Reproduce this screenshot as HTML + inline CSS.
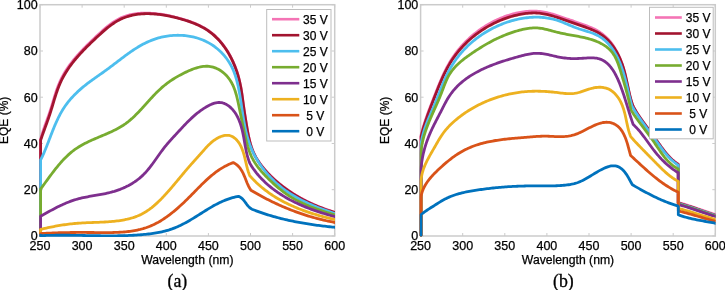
<!DOCTYPE html>
<html><head><meta charset="utf-8"><style>
html,body{margin:0;padding:0;background:#fff;width:725px;height:290px;overflow:hidden}
svg{display:block;will-change:transform}
text{font-family:"Liberation Sans",sans-serif;fill:#000;stroke:#000;stroke-width:0.25px}
.cap{font-family:"Liberation Serif",serif;stroke-width:0.3px}
</style></head><body>
<svg width="725" height="290" viewBox="0 0 725 290">
<rect width="725" height="290" fill="#fff"/>
<clipPath id="c0"><rect x="38.7" y="3.4000000000000004" width="296.3" height="233.60000000000002"/></clipPath>
<rect x="40.0" y="4.7" width="294.7" height="231.3" fill="none" stroke="#cbcbcb" stroke-width="1.5"/>
<path d="M40.0,236.0v-3M40.0,4.7v3M82.1,236.0v-3M82.1,4.7v3M124.2,236.0v-3M124.2,4.7v3M166.3,236.0v-3M166.3,4.7v3M208.4,236.0v-3M208.4,4.7v3M250.5,236.0v-3M250.5,4.7v3M292.6,236.0v-3M292.6,4.7v3M334.7,236.0v-3M334.7,4.7v3M40.0,236.0h3M334.7,236.0h-3M40.0,189.7h3M334.7,189.7h-3M40.0,143.5h3M334.7,143.5h-3M40.0,97.2h3M334.7,97.2h-3M40.0,51.0h3M334.7,51.0h-3M40.0,4.7h3M334.7,4.7h-3" stroke="#cbcbcb" stroke-width="1" fill="none"/>
<text x="40.0" y="249.6" font-size="12.5" text-anchor="middle">250</text>
<text x="82.1" y="249.6" font-size="12.5" text-anchor="middle">300</text>
<text x="124.2" y="249.6" font-size="12.5" text-anchor="middle">350</text>
<text x="166.3" y="249.6" font-size="12.5" text-anchor="middle">400</text>
<text x="208.4" y="249.6" font-size="12.5" text-anchor="middle">450</text>
<text x="250.5" y="249.6" font-size="12.5" text-anchor="middle">500</text>
<text x="292.6" y="249.6" font-size="12.5" text-anchor="middle">550</text>
<text x="334.7" y="249.6" font-size="12.5" text-anchor="middle">600</text>
<text x="37.7" y="240.4" font-size="12.5" text-anchor="end">0</text>
<text x="37.7" y="194.1" font-size="12.5" text-anchor="end">20</text>
<text x="37.7" y="147.9" font-size="12.5" text-anchor="end">40</text>
<text x="37.7" y="101.6" font-size="12.5" text-anchor="end">60</text>
<text x="37.7" y="55.4" font-size="12.5" text-anchor="end">80</text>
<text x="37.7" y="9.1" font-size="12.5" text-anchor="end">100</text>
<g clip-path="url(#c0)" fill="none" stroke-width="2.8" stroke-linejoin="round" stroke-linecap="round">
<path d="M40.60,235.20 L40.60,139.50 L40.97,138.05 L41.36,136.60 L41.77,135.17 L42.20,133.75 L42.64,132.33 L43.10,130.92 L43.57,129.51 L44.05,128.11 L44.53,126.71 L45.03,125.32 L45.53,123.92 L46.04,122.53 L46.55,121.13 L47.05,119.73 L47.56,118.33 L48.07,116.93 L48.57,115.52 L49.06,114.10 L49.55,112.68 L50.03,111.24 L50.50,109.80 L50.96,108.35 L51.41,106.90 L51.86,105.43 L52.30,103.97 L52.74,102.50 L53.18,101.02 L53.62,99.55 L54.06,98.08 L54.51,96.61 L54.97,95.14 L55.43,93.68 L55.90,92.22 L56.39,90.77 L56.89,89.33 L57.40,87.90 L57.93,86.48 L58.48,85.07 L59.05,83.67 L59.64,82.29 L60.25,80.92 L60.89,79.57 L61.55,78.24 L62.23,76.91 L62.93,75.61 L63.65,74.31 L64.40,73.03 L65.16,71.77 L65.94,70.51 L66.75,69.27 L67.57,68.04 L68.41,66.82 L69.26,65.61 L70.13,64.42 L71.02,63.23 L71.93,62.05 L72.84,60.89 L73.78,59.73 L74.73,58.58 L75.69,57.44 L76.66,56.31 L77.65,55.18 L78.65,54.07 L79.66,52.96 L80.68,51.85 L81.71,50.76 L82.75,49.67 L83.80,48.58 L84.86,47.50 L85.93,46.42 L87.00,45.35 L88.08,44.28 L89.17,43.22 L90.27,42.16 L91.37,41.10 L92.47,40.05 L93.58,38.99 L94.70,37.94 L95.81,36.89 L96.93,35.84 L98.06,34.79 L99.18,33.74 L100.31,32.70 L101.45,31.67 L102.59,30.64 L103.73,29.63 L104.89,28.63 L106.05,27.64 L107.22,26.68 L108.40,25.73 L109.60,24.81 L110.80,23.91 L112.01,23.03 L113.24,22.19 L114.49,21.37 L115.74,20.59 L117.02,19.85 L118.31,19.14 L119.61,18.47 L120.94,17.85 L122.28,17.27 L123.64,16.73 L125.02,16.23 L126.41,15.77 L127.82,15.36 L129.25,14.98 L130.68,14.64 L132.13,14.34 L133.59,14.07 L135.05,13.84 L136.53,13.64 L138.01,13.47 L139.50,13.34 L141.00,13.24 L142.50,13.16 L144.00,13.12 L145.50,13.10 L147.01,13.11 L148.52,13.14 L150.02,13.20 L151.53,13.28 L153.03,13.39 L154.53,13.52 L156.03,13.66 L157.53,13.83 L159.03,14.02 L160.52,14.23 L162.01,14.46 L163.50,14.70 L164.99,14.97 L166.48,15.25 L167.96,15.54 L169.45,15.85 L170.93,16.18 L172.41,16.52 L173.89,16.87 L175.36,17.24 L176.84,17.62 L178.31,18.01 L179.78,18.41 L181.25,18.82 L182.71,19.24 L184.17,19.68 L185.63,20.12 L187.08,20.59 L188.52,21.06 L189.96,21.56 L191.38,22.07 L192.80,22.60 L194.20,23.15 L195.60,23.72 L196.98,24.31 L198.34,24.92 L199.70,25.56 L201.03,26.22 L202.35,26.91 L203.65,27.63 L204.93,28.37 L206.19,29.14 L207.44,29.95 L208.66,30.78 L209.85,31.64 L211.03,32.54 L212.18,33.46 L213.31,34.41 L214.42,35.39 L215.51,36.39 L216.58,37.42 L217.62,38.48 L218.65,39.56 L219.65,40.66 L220.63,41.79 L221.58,42.94 L222.52,44.11 L223.43,45.30 L224.32,46.51 L225.19,47.74 L226.04,48.98 L226.87,50.25 L227.67,51.53 L228.45,52.83 L229.21,54.14 L229.95,55.47 L230.67,56.81 L231.36,58.17 L232.04,59.54 L232.69,60.91 L233.32,62.30 L233.93,63.70 L234.51,65.11 L235.08,66.53 L235.62,67.96 L236.14,69.39 L236.64,70.83 L237.12,72.27 L237.58,73.72 L238.01,75.17 L238.42,76.63 L238.81,78.09 L239.18,79.55 L239.53,81.01 L239.86,82.48 L240.17,83.94 L240.46,85.41 L240.74,86.87 L241.00,88.34 L241.25,89.81 L241.48,91.28 L241.71,92.75 L241.93,94.23 L242.14,95.70 L242.35,97.18 L242.55,98.65 L242.75,100.13 L242.95,101.61 L243.15,103.10 L243.35,104.58 L243.56,106.06 L243.77,107.55 L243.99,109.04 L244.21,110.53 L244.44,112.02 L244.68,113.52 L244.92,115.01 L245.17,116.51 L245.42,118.01 L245.67,119.50 L245.92,121.00 L246.17,122.51 L246.43,124.01 L246.68,125.51 L246.93,127.01 L247.18,128.51 L247.44,130.01 L247.71,131.51 L247.98,133.00 L248.26,134.49 L248.56,135.97 L248.87,137.45 L249.20,138.92 L249.54,140.38 L249.91,141.83 L250.30,143.27 L250.71,144.71 L251.14,146.12 L251.61,147.53 L252.11,148.92 L252.64,150.30 L253.20,151.66 L253.80,153.01 L254.43,154.34 L255.10,155.65 L255.81,156.95 L256.55,158.23 L257.32,159.49 L258.12,160.74 L258.95,161.98 L259.81,163.20 L260.69,164.41 L261.59,165.60 L262.52,166.78 L263.47,167.95 L264.43,169.11 L265.42,170.25 L266.42,171.38 L267.44,172.50 L268.48,173.60 L269.54,174.69 L270.61,175.76 L271.70,176.83 L272.80,177.88 L273.92,178.91 L275.05,179.93 L276.19,180.94 L277.34,181.93 L278.50,182.91 L279.68,183.88 L280.86,184.83 L282.06,185.77 L283.26,186.69 L284.47,187.60 L285.69,188.49 L286.91,189.37 L288.15,190.24 L289.39,191.09 L290.63,191.92 L291.89,192.75 L293.15,193.56 L294.42,194.35 L295.70,195.13 L296.98,195.90 L298.27,196.66 L299.57,197.40 L300.87,198.13 L302.19,198.85 L303.50,199.55 L304.83,200.24 L306.16,200.92 L307.50,201.59 L308.84,202.24 L310.19,202.88 L311.55,203.51 L312.91,204.13 L314.28,204.73 L315.66,205.33 L317.04,205.91 L318.43,206.48 L319.83,207.04 L321.23,207.59 L322.63,208.12 L324.04,208.65 L325.46,209.16 L326.88,209.67 L328.31,210.16 L329.75,210.64 L331.19,211.11 L332.63,211.58 L334.08,212.03 L335.54,212.47 L337.00,212.90" stroke="#f474b5"/>
<path d="M40.60,235.20 L40.60,140.30 L41.08,138.87 L41.58,137.45 L42.07,136.03 L42.57,134.62 L43.08,133.21 L43.58,131.81 L44.09,130.41 L44.60,129.01 L45.11,127.61 L45.62,126.21 L46.13,124.81 L46.63,123.41 L47.14,122.01 L47.64,120.61 L48.13,119.20 L48.63,117.79 L49.11,116.37 L49.59,114.95 L50.06,113.52 L50.53,112.09 L50.99,110.64 L51.44,109.19 L51.88,107.74 L52.32,106.28 L52.76,104.81 L53.20,103.35 L53.64,101.88 L54.08,100.41 L54.52,98.95 L54.97,97.49 L55.43,96.03 L55.90,94.57 L56.38,93.12 L56.87,91.68 L57.37,90.24 L57.89,88.82 L58.42,87.40 L58.97,86.00 L59.55,84.61 L60.14,83.23 L60.76,81.87 L61.40,80.52 L62.06,79.19 L62.74,77.87 L63.44,76.56 L64.17,75.27 L64.91,73.99 L65.67,72.72 L66.46,71.47 L67.26,70.22 L68.08,68.99 L68.91,67.77 L69.76,66.56 L70.63,65.36 L71.52,64.17 L72.42,62.99 L73.33,61.82 L74.26,60.66 L75.21,59.51 L76.17,58.37 L77.14,57.23 L78.12,56.11 L79.11,54.99 L80.12,53.87 L81.13,52.77 L82.16,51.67 L83.20,50.58 L84.24,49.49 L85.30,48.41 L86.36,47.33 L87.43,46.26 L88.51,45.19 L89.60,44.13 L90.69,43.07 L91.79,42.01 L92.89,40.96 L94.00,39.91 L95.11,38.86 L96.23,37.81 L97.35,36.77 L98.47,35.73 L99.60,34.69 L100.73,33.66 L101.86,32.63 L103.00,31.61 L104.15,30.61 L105.31,29.62 L106.47,28.64 L107.64,27.68 L108.83,26.74 L110.02,25.83 L111.22,24.93 L112.44,24.06 L113.67,23.22 L114.91,22.41 L116.17,21.63 L117.44,20.88 L118.73,20.17 L120.04,19.50 L121.36,18.86 L122.70,18.27 L124.06,17.71 L125.43,17.20 L126.82,16.72 L128.23,16.29 L129.64,15.89 L131.07,15.53 L132.51,15.20 L133.97,14.91 L135.43,14.65 L136.90,14.42 L138.37,14.23 L139.86,14.07 L141.35,13.93 L142.84,13.83 L144.34,13.76 L145.84,13.72 L147.34,13.70 L148.85,13.71 L150.35,13.74 L151.85,13.80 L153.35,13.89 L154.85,13.99 L156.35,14.13 L157.85,14.28 L159.35,14.45 L160.84,14.65 L162.33,14.86 L163.82,15.09 L165.31,15.35 L166.80,15.62 L168.29,15.90 L169.77,16.21 L171.25,16.53 L172.73,16.86 L174.21,17.21 L175.69,17.58 L177.16,17.96 L178.63,18.34 L180.10,18.75 L181.57,19.16 L183.03,19.58 L184.49,20.02 L185.95,20.48 L187.40,20.94 L188.84,21.43 L190.27,21.93 L191.69,22.45 L193.10,22.98 L194.51,23.54 L195.89,24.12 L197.27,24.72 L198.63,25.34 L199.98,25.99 L201.31,26.66 L202.62,27.36 L203.92,28.08 L205.19,28.83 L206.45,29.61 L207.69,30.42 L208.90,31.26 L210.09,32.13 L211.26,33.03 L212.41,33.96 L213.53,34.91 L214.63,35.90 L215.71,36.90 L216.77,37.94 L217.81,39.00 L218.83,40.08 L219.82,41.18 L220.79,42.31 L221.74,43.46 L222.67,44.63 L223.58,45.82 L224.46,47.03 L225.32,48.26 L226.17,49.51 L226.99,50.77 L227.78,52.06 L228.56,53.35 L229.31,54.67 L230.05,55.99 L230.76,57.33 L231.45,58.69 L232.12,60.05 L232.77,61.43 L233.39,62.82 L234.00,64.22 L234.58,65.62 L235.14,67.04 L235.68,68.46 L236.20,69.89 L236.70,71.33 L237.17,72.77 L237.63,74.22 L238.06,75.67 L238.47,77.13 L238.87,78.59 L239.24,80.05 L239.59,81.51 L239.91,82.97 L240.23,84.43 L240.52,85.90 L240.80,87.36 L241.06,88.83 L241.31,90.30 L241.55,91.77 L241.78,93.24 L242.00,94.72 L242.22,96.19 L242.42,97.67 L242.63,99.14 L242.83,100.62 L243.03,102.10 L243.22,103.58 L243.42,105.07 L243.62,106.55 L243.83,108.04 L244.03,109.53 L244.25,111.02 L244.47,112.51 L244.70,114.00 L244.93,115.50 L245.16,116.99 L245.40,118.49 L245.65,119.99 L245.89,121.49 L246.14,122.99 L246.39,124.49 L246.64,125.99 L246.89,127.48 L247.15,128.98 L247.41,130.48 L247.68,131.97 L247.96,133.46 L248.26,134.94 L248.56,136.42 L248.88,137.89 L249.22,139.36 L249.58,140.81 L249.96,142.26 L250.35,143.69 L250.78,145.12 L251.22,146.53 L251.70,147.94 L252.20,149.32 L252.74,150.70 L253.31,152.06 L253.91,153.40 L254.54,154.73 L255.21,156.04 L255.91,157.34 L256.65,158.62 L257.42,159.88 L258.21,161.14 L259.03,162.37 L259.88,163.59 L260.75,164.80 L261.65,166.00 L262.57,167.18 L263.51,168.34 L264.48,169.50 L265.46,170.64 L266.46,171.77 L267.48,172.88 L268.52,173.98 L269.58,175.07 L270.65,176.14 L271.74,177.20 L272.84,178.25 L273.96,179.28 L275.09,180.30 L276.23,181.30 L277.39,182.29 L278.55,183.27 L279.73,184.23 L280.92,185.18 L282.11,186.11 L283.32,187.03 L284.53,187.94 L285.75,188.83 L286.97,189.70 L288.21,190.57 L289.45,191.41 L290.69,192.25 L291.95,193.07 L293.21,193.88 L294.48,194.67 L295.75,195.46 L297.04,196.22 L298.32,196.98 L299.62,197.72 L300.92,198.45 L302.23,199.16 L303.55,199.87 L304.87,200.56 L306.20,201.24 L307.54,201.90 L308.88,202.56 L310.23,203.20 L311.58,203.83 L312.94,204.44 L314.31,205.05 L315.68,205.64 L317.06,206.22 L318.45,206.79 L319.84,207.35 L321.24,207.90 L322.64,208.43 L324.05,208.96 L325.47,209.47 L326.89,209.98 L328.32,210.47 L329.75,210.95 L331.19,211.42 L332.63,211.88 L334.08,212.33 L335.54,212.77 L337.00,213.20" stroke="#a2142f"/>
<path d="M40.60,235.20 L40.60,160.00 L41.26,158.69 L41.89,157.37 L42.52,156.03 L43.13,154.69 L43.74,153.33 L44.33,151.96 L44.91,150.58 L45.49,149.20 L46.05,147.80 L46.61,146.40 L47.17,144.99 L47.72,143.58 L48.27,142.17 L48.81,140.75 L49.36,139.33 L49.90,137.90 L50.45,136.48 L50.99,135.05 L51.55,133.63 L52.10,132.20 L52.66,130.78 L53.23,129.36 L53.80,127.95 L54.38,126.54 L54.97,125.13 L55.58,123.74 L56.19,122.35 L56.82,120.96 L57.46,119.59 L58.11,118.23 L58.78,116.87 L59.47,115.53 L60.17,114.20 L60.89,112.88 L61.64,111.58 L62.40,110.29 L63.19,109.02 L64.00,107.76 L64.83,106.52 L65.69,105.29 L66.57,104.09 L67.47,102.90 L68.39,101.72 L69.33,100.57 L70.29,99.42 L71.28,98.30 L72.28,97.19 L73.30,96.09 L74.33,95.01 L75.38,93.95 L76.45,92.90 L77.54,91.87 L78.63,90.85 L79.75,89.85 L80.87,88.86 L82.01,87.88 L83.16,86.92 L84.32,85.97 L85.49,85.04 L86.67,84.12 L87.86,83.21 L89.06,82.31 L90.26,81.42 L91.48,80.53 L92.69,79.66 L93.91,78.79 L95.14,77.92 L96.37,77.05 L97.60,76.19 L98.84,75.33 L100.07,74.46 L101.30,73.60 L102.54,72.73 L103.77,71.86 L105.00,70.98 L106.23,70.09 L107.45,69.20 L108.67,68.30 L109.88,67.39 L111.10,66.48 L112.31,65.56 L113.52,64.64 L114.73,63.71 L115.94,62.79 L117.14,61.87 L118.35,60.94 L119.56,60.02 L120.77,59.10 L121.98,58.18 L123.19,57.27 L124.41,56.37 L125.63,55.47 L126.85,54.57 L128.08,53.69 L129.31,52.82 L130.54,51.95 L131.78,51.10 L133.03,50.26 L134.28,49.43 L135.54,48.62 L136.81,47.82 L138.08,47.04 L139.37,46.28 L140.66,45.54 L141.96,44.81 L143.27,44.10 L144.59,43.42 L145.92,42.76 L147.26,42.12 L148.61,41.51 L149.97,40.92 L151.35,40.35 L152.74,39.82 L154.14,39.31 L155.55,38.83 L156.98,38.38 L158.42,37.96 L159.87,37.57 L161.34,37.21 L162.81,36.88 L164.28,36.58 L165.77,36.31 L167.26,36.07 L168.76,35.86 L170.27,35.68 L171.78,35.54 L173.29,35.42 L174.80,35.34 L176.32,35.29 L177.83,35.27 L179.35,35.28 L180.86,35.33 L182.37,35.40 L183.88,35.51 L185.39,35.66 L186.89,35.84 L188.39,36.05 L189.88,36.29 L191.36,36.57 L192.83,36.88 L194.30,37.23 L195.75,37.61 L197.20,38.02 L198.63,38.47 L200.05,38.96 L201.46,39.48 L202.85,40.04 L204.23,40.63 L205.59,41.26 L206.94,41.92 L208.27,42.62 L209.58,43.35 L210.87,44.13 L212.14,44.93 L213.39,45.78 L214.62,46.65 L215.82,47.56 L217.00,48.50 L218.15,49.47 L219.28,50.48 L220.39,51.51 L221.46,52.57 L222.51,53.65 L223.52,54.77 L224.51,55.90 L225.46,57.07 L226.39,58.25 L227.28,59.46 L228.13,60.69 L228.95,61.94 L229.74,63.21 L230.48,64.50 L231.19,65.81 L231.87,67.13 L232.50,68.47 L233.11,69.82 L233.68,71.19 L234.22,72.58 L234.74,73.97 L235.22,75.38 L235.68,76.80 L236.12,78.23 L236.53,79.66 L236.92,81.11 L237.29,82.56 L237.64,84.03 L237.98,85.49 L238.30,86.96 L238.60,88.44 L238.90,89.92 L239.18,91.40 L239.45,92.89 L239.71,94.38 L239.96,95.86 L240.21,97.36 L240.45,98.85 L240.68,100.34 L240.91,101.84 L241.14,103.33 L241.36,104.83 L241.58,106.33 L241.80,107.83 L242.02,109.33 L242.24,110.83 L242.47,112.32 L242.69,113.82 L242.93,115.32 L243.16,116.82 L243.40,118.32 L243.65,119.81 L243.91,121.31 L244.18,122.80 L244.45,124.29 L244.74,125.78 L245.03,127.26 L245.34,128.74 L245.67,130.22 L246.00,131.69 L246.36,133.16 L246.72,134.62 L247.11,136.08 L247.51,137.53 L247.93,138.97 L248.37,140.41 L248.83,141.83 L249.32,143.25 L249.82,144.66 L250.35,146.07 L250.90,147.46 L251.47,148.84 L252.07,150.21 L252.69,151.57 L253.34,152.92 L254.00,154.26 L254.69,155.59 L255.40,156.91 L256.13,158.22 L256.88,159.51 L257.66,160.79 L258.45,162.07 L259.27,163.33 L260.10,164.57 L260.95,165.81 L261.82,167.03 L262.72,168.24 L263.63,169.43 L264.55,170.62 L265.50,171.78 L266.46,172.94 L267.45,174.08 L268.44,175.21 L269.46,176.32 L270.49,177.42 L271.54,178.50 L272.60,179.57 L273.68,180.62 L274.77,181.66 L275.88,182.68 L277.00,183.69 L278.14,184.68 L279.29,185.65 L280.45,186.61 L281.63,187.55 L282.82,188.48 L284.02,189.38 L285.24,190.27 L286.47,191.15 L287.70,192.00 L288.95,192.84 L290.21,193.66 L291.49,194.47 L292.77,195.26 L294.06,196.04 L295.36,196.80 L296.67,197.54 L297.99,198.27 L299.31,198.99 L300.65,199.69 L301.99,200.39 L303.34,201.06 L304.70,201.73 L306.06,202.38 L307.43,203.02 L308.80,203.65 L310.19,204.27 L311.57,204.87 L312.96,205.47 L314.36,206.05 L315.76,206.63 L317.16,207.20 L318.57,207.75 L319.98,208.30 L321.39,208.84 L322.80,209.37 L324.22,209.89 L325.64,210.41 L327.06,210.92 L328.48,211.42 L329.90,211.91 L331.32,212.40 L332.74,212.88 L334.16,213.36 L335.58,213.83 L337.00,214.30" stroke="#4dbeee"/>
<path d="M40.60,235.20 L40.60,189.00 L41.48,187.81 L42.36,186.62 L43.24,185.42 L44.12,184.21 L45.00,183.00 L45.88,181.78 L46.77,180.57 L47.66,179.34 L48.55,178.12 L49.44,176.90 L50.34,175.68 L51.25,174.47 L52.16,173.25 L53.08,172.04 L54.00,170.84 L54.94,169.64 L55.88,168.45 L56.83,167.27 L57.79,166.10 L58.76,164.94 L59.74,163.79 L60.73,162.65 L61.73,161.53 L62.75,160.42 L63.78,159.32 L64.82,158.25 L65.88,157.19 L66.95,156.15 L68.04,155.13 L69.14,154.13 L70.27,153.15 L71.40,152.19 L72.56,151.26 L73.73,150.35 L74.93,149.47 L76.14,148.62 L77.38,147.79 L78.63,146.99 L79.90,146.21 L81.19,145.46 L82.49,144.73 L83.81,144.02 L85.14,143.32 L86.48,142.65 L87.84,141.99 L89.20,141.34 L90.58,140.71 L91.96,140.08 L93.35,139.47 L94.74,138.87 L96.14,138.27 L97.54,137.67 L98.95,137.08 L100.35,136.49 L101.75,135.90 L103.16,135.31 L104.56,134.72 L105.95,134.12 L107.35,133.51 L108.73,132.90 L110.11,132.28 L111.48,131.65 L112.85,131.00 L114.20,130.34 L115.54,129.67 L116.86,128.98 L118.18,128.27 L119.47,127.54 L120.76,126.79 L122.02,126.02 L123.27,125.22 L124.49,124.40 L125.70,123.55 L126.88,122.67 L128.05,121.77 L129.20,120.84 L130.34,119.89 L131.45,118.92 L132.56,117.94 L133.65,116.93 L134.73,115.90 L135.79,114.86 L136.85,113.81 L137.89,112.74 L138.93,111.66 L139.96,110.57 L140.99,109.48 L142.01,108.37 L143.02,107.26 L144.04,106.14 L145.05,105.02 L146.06,103.90 L147.06,102.77 L148.08,101.65 L149.09,100.52 L150.10,99.40 L151.12,98.29 L152.15,97.18 L153.18,96.07 L154.22,94.98 L155.27,93.89 L156.32,92.82 L157.39,91.76 L158.47,90.71 L159.56,89.67 L160.66,88.66 L161.78,87.66 L162.92,86.68 L164.07,85.72 L165.23,84.77 L166.42,83.85 L167.62,82.95 L168.83,82.07 L170.06,81.20 L171.31,80.35 L172.57,79.52 L173.84,78.71 L175.13,77.92 L176.44,77.14 L177.76,76.37 L179.09,75.63 L180.44,74.90 L181.80,74.18 L183.17,73.48 L184.55,72.79 L185.95,72.12 L187.36,71.46 L188.78,70.82 L190.21,70.21 L191.65,69.62 L193.10,69.06 L194.54,68.54 L196.00,68.06 L197.45,67.63 L198.91,67.25 L200.36,66.92 L201.81,66.65 L203.26,66.45 L204.70,66.31 L206.13,66.25 L207.55,66.26 L208.96,66.36 L210.36,66.54 L211.75,66.81 L213.12,67.16 L214.47,67.59 L215.80,68.09 L217.10,68.67 L218.38,69.31 L219.64,70.02 L220.86,70.80 L222.05,71.64 L223.20,72.53 L224.31,73.49 L225.39,74.49 L226.42,75.54 L227.41,76.64 L228.36,77.79 L229.25,78.97 L230.10,80.20 L230.89,81.46 L231.63,82.75 L232.32,84.07 L232.97,85.43 L233.57,86.80 L234.14,88.21 L234.67,89.63 L235.16,91.07 L235.63,92.53 L236.06,94.00 L236.48,95.49 L236.86,96.98 L237.23,98.49 L237.59,99.99 L237.92,101.51 L238.25,103.02 L238.57,104.53 L238.88,106.03 L239.19,107.53 L239.50,109.02 L239.81,110.51 L240.11,111.99 L240.41,113.47 L240.72,114.94 L241.02,116.41 L241.32,117.88 L241.61,119.35 L241.91,120.81 L242.21,122.27 L242.52,123.73 L242.82,125.19 L243.12,126.65 L243.43,128.11 L243.73,129.57 L244.04,131.04 L244.35,132.50 L244.67,133.97 L244.99,135.44 L245.31,136.91 L245.65,138.38 L246.00,139.85 L246.35,141.31 L246.72,142.77 L247.11,144.22 L247.52,145.67 L247.94,147.11 L248.39,148.53 L248.86,149.95 L249.36,151.35 L249.88,152.74 L250.44,154.12 L251.02,155.48 L251.64,156.82 L252.29,158.14 L252.98,159.45 L253.70,160.73 L254.46,162.00 L255.25,163.25 L256.07,164.48 L256.92,165.69 L257.79,166.89 L258.69,168.07 L259.62,169.24 L260.57,170.40 L261.54,171.54 L262.53,172.67 L263.54,173.78 L264.57,174.89 L265.61,175.98 L266.66,177.06 L267.73,178.13 L268.80,179.20 L269.89,180.25 L270.98,181.30 L272.09,182.34 L273.20,183.36 L274.33,184.38 L275.46,185.38 L276.60,186.37 L277.75,187.35 L278.92,188.32 L280.09,189.27 L281.27,190.20 L282.47,191.13 L283.67,192.03 L284.88,192.92 L286.11,193.79 L287.34,194.65 L288.59,195.48 L289.85,196.30 L291.12,197.09 L292.39,197.87 L293.68,198.63 L294.98,199.37 L296.29,200.10 L297.61,200.80 L298.94,201.49 L300.28,202.16 L301.62,202.82 L302.98,203.46 L304.34,204.09 L305.71,204.70 L307.08,205.30 L308.47,205.89 L309.86,206.46 L311.25,207.02 L312.65,207.57 L314.06,208.10 L315.47,208.63 L316.88,209.14 L318.30,209.65 L319.73,210.14 L321.15,210.63 L322.59,211.11 L324.02,211.57 L325.46,212.03 L326.89,212.49 L328.33,212.94 L329.78,213.38 L331.22,213.81 L332.67,214.24 L334.11,214.66 L335.56,215.08 L337.00,215.50" stroke="#77ac30"/>
<path d="M40.60,235.20 L40.60,216.20 L41.91,215.47 L43.22,214.74 L44.54,214.01 L45.85,213.28 L47.17,212.54 L48.49,211.82 L49.82,211.09 L51.15,210.37 L52.48,209.65 L53.82,208.94 L55.16,208.24 L56.51,207.55 L57.86,206.87 L59.21,206.20 L60.57,205.55 L61.94,204.90 L63.31,204.28 L64.69,203.67 L66.08,203.07 L67.47,202.50 L68.87,201.94 L70.27,201.41 L71.69,200.89 L73.11,200.40 L74.53,199.94 L75.97,199.50 L77.42,199.08 L78.87,198.70 L80.33,198.33 L81.79,197.98 L83.26,197.66 L84.74,197.35 L86.22,197.05 L87.71,196.76 L89.19,196.49 L90.68,196.22 L92.18,195.96 L93.67,195.70 L95.17,195.44 L96.66,195.19 L98.15,194.93 L99.65,194.66 L101.14,194.39 L102.63,194.11 L104.11,193.82 L105.59,193.51 L107.07,193.19 L108.54,192.85 L110.01,192.50 L111.47,192.12 L112.92,191.71 L114.37,191.29 L115.80,190.84 L117.23,190.36 L118.65,189.86 L120.06,189.34 L121.45,188.79 L122.84,188.21 L124.21,187.61 L125.56,186.99 L126.91,186.33 L128.23,185.66 L129.54,184.95 L130.84,184.22 L132.12,183.46 L133.37,182.67 L134.61,181.86 L135.83,181.02 L137.03,180.15 L138.21,179.25 L139.37,178.33 L140.50,177.37 L141.61,176.39 L142.69,175.38 L143.75,174.34 L144.79,173.27 L145.81,172.18 L146.80,171.06 L147.78,169.92 L148.74,168.76 L149.68,167.59 L150.61,166.40 L151.53,165.19 L152.44,163.97 L153.34,162.74 L154.24,161.51 L155.12,160.26 L156.01,159.02 L156.89,157.77 L157.77,156.52 L158.65,155.27 L159.54,154.02 L160.43,152.78 L161.32,151.54 L162.22,150.32 L163.14,149.10 L164.06,147.90 L164.99,146.71 L165.94,145.54 L166.91,144.39 L167.88,143.24 L168.86,142.11 L169.86,140.99 L170.86,139.87 L171.87,138.76 L172.88,137.66 L173.89,136.56 L174.91,135.46 L175.93,134.36 L176.95,133.26 L177.97,132.16 L178.99,131.05 L180.01,129.94 L181.03,128.84 L182.05,127.73 L183.08,126.63 L184.11,125.54 L185.15,124.45 L186.19,123.36 L187.24,122.29 L188.30,121.23 L189.37,120.18 L190.45,119.14 L191.54,118.12 L192.64,117.11 L193.76,116.11 L194.90,115.13 L196.05,114.16 L197.23,113.21 L198.42,112.27 L199.64,111.35 L200.88,110.45 L202.15,109.56 L203.45,108.69 L204.77,107.83 L206.12,107.00 L207.49,106.21 L208.87,105.47 L210.27,104.79 L211.68,104.17 L213.09,103.64 L214.51,103.19 L215.92,102.85 L217.32,102.61 L218.71,102.50 L220.09,102.52 L221.44,102.68 L222.78,102.97 L224.09,103.39 L225.37,103.93 L226.62,104.58 L227.83,105.33 L229.01,106.17 L230.14,107.10 L231.23,108.11 L232.28,109.19 L233.27,110.33 L234.21,111.53 L235.09,112.77 L235.92,114.05 L236.70,115.37 L237.43,116.72 L238.10,118.11 L238.74,119.51 L239.33,120.95 L239.88,122.39 L240.39,123.86 L240.87,125.33 L241.31,126.80 L241.72,128.28 L242.10,129.76 L242.45,131.24 L242.78,132.71 L243.09,134.18 L243.38,135.65 L243.66,137.11 L243.93,138.58 L244.19,140.04 L244.44,141.50 L244.70,142.96 L244.95,144.42 L245.21,145.88 L245.48,147.34 L245.75,148.79 L246.04,150.24 L246.35,151.70 L246.68,153.15 L247.03,154.60 L247.41,156.05 L247.82,157.50 L248.26,158.95 L248.73,160.40 L249.24,161.85 L249.80,163.30 L250.59,164.62 L251.41,165.92 L252.25,167.20 L253.11,168.47 L253.99,169.71 L254.90,170.93 L255.82,172.14 L256.76,173.33 L257.73,174.49 L258.71,175.64 L259.71,176.78 L260.73,177.89 L261.77,178.99 L262.82,180.06 L263.90,181.12 L264.99,182.17 L266.09,183.19 L267.22,184.20 L268.36,185.20 L269.51,186.17 L270.68,187.13 L271.86,188.07 L273.06,189.00 L274.27,189.91 L275.50,190.81 L276.73,191.69 L277.98,192.55 L279.25,193.40 L280.52,194.23 L281.81,195.05 L283.10,195.85 L284.41,196.64 L285.73,197.42 L287.06,198.18 L288.40,198.92 L289.74,199.66 L291.10,200.37 L292.46,201.08 L293.83,201.77 L295.21,202.45 L296.60,203.11 L298.00,203.77 L299.40,204.40 L300.80,205.03 L302.22,205.65 L303.63,206.25 L305.06,206.84 L306.49,207.42 L307.92,207.99 L309.36,208.54 L310.80,209.09 L312.24,209.62 L313.69,210.14 L315.14,210.66 L316.60,211.16 L318.05,211.65 L319.51,212.13 L320.97,212.60 L322.43,213.07 L323.89,213.52 L325.35,213.96 L326.81,214.40 L328.27,214.82 L329.73,215.24 L331.18,215.65 L332.64,216.05 L334.10,216.44 L335.55,216.82 L337.00,217.20" stroke="#7e2f8e"/>
<path d="M40.60,235.20 L40.60,229.40 L42.05,229.05 L43.51,228.71 L44.97,228.37 L46.44,228.04 L47.91,227.72 L49.38,227.40 L50.86,227.10 L52.34,226.80 L53.83,226.51 L55.32,226.23 L56.81,225.96 L58.30,225.69 L59.79,225.44 L61.29,225.20 L62.79,224.96 L64.29,224.74 L65.79,224.53 L67.29,224.32 L68.79,224.13 L70.30,223.95 L71.80,223.79 L73.30,223.63 L74.80,223.49 L76.31,223.35 L77.81,223.23 L79.31,223.13 L80.81,223.03 L82.31,222.94 L83.81,222.86 L85.31,222.79 L86.80,222.72 L88.30,222.66 L89.80,222.61 L91.30,222.55 L92.80,222.50 L94.30,222.45 L95.80,222.39 L97.30,222.34 L98.81,222.28 L100.31,222.22 L101.82,222.15 L103.32,222.08 L104.83,222.00 L106.34,221.91 L107.85,221.82 L109.37,221.71 L110.88,221.59 L112.40,221.46 L113.91,221.31 L115.43,221.15 L116.94,220.98 L118.45,220.78 L119.96,220.57 L121.46,220.33 L122.96,220.08 L124.45,219.80 L125.93,219.49 L127.40,219.17 L128.86,218.81 L130.32,218.43 L131.76,218.02 L133.19,217.58 L134.60,217.11 L136.00,216.60 L137.39,216.06 L138.76,215.49 L140.11,214.88 L141.44,214.24 L142.76,213.55 L144.05,212.83 L145.33,212.07 L146.59,211.28 L147.83,210.45 L149.06,209.60 L150.26,208.71 L151.46,207.80 L152.63,206.86 L153.80,205.90 L154.94,204.92 L156.08,203.91 L157.20,202.88 L158.31,201.84 L159.40,200.78 L160.49,199.70 L161.56,198.62 L162.62,197.51 L163.67,196.40 L164.71,195.29 L165.74,194.16 L166.77,193.03 L167.78,191.89 L168.79,190.76 L169.78,189.61 L170.78,188.47 L171.76,187.32 L172.74,186.18 L173.72,185.03 L174.69,183.87 L175.66,182.72 L176.62,181.57 L177.58,180.42 L178.54,179.26 L179.50,178.11 L180.46,176.96 L181.41,175.81 L182.37,174.66 L183.33,173.51 L184.29,172.37 L185.25,171.22 L186.21,170.08 L187.18,168.95 L188.15,167.81 L189.12,166.68 L190.10,165.56 L191.09,164.44 L192.08,163.32 L193.07,162.21 L194.07,161.09 L195.07,159.98 L196.08,158.86 L197.09,157.75 L198.09,156.63 L199.10,155.51 L200.11,154.38 L201.12,153.25 L202.13,152.11 L203.14,150.97 L204.15,149.82 L205.17,148.67 L206.21,147.53 L207.26,146.41 L208.33,145.30 L209.44,144.22 L210.57,143.16 L211.74,142.14 L212.95,141.16 L214.21,140.22 L215.51,139.34 L216.84,138.51 L218.19,137.76 L219.57,137.09 L220.95,136.51 L222.34,136.03 L223.72,135.66 L225.10,135.41 L226.45,135.29 L227.78,135.30 L229.08,135.45 L230.35,135.76 L231.57,136.21 L232.74,136.80 L233.88,137.51 L234.96,138.33 L235.99,139.26 L236.97,140.28 L237.89,141.39 L238.75,142.56 L239.55,143.80 L240.29,145.10 L240.97,146.44 L241.60,147.82 L242.18,149.24 L242.71,150.69 L243.21,152.17 L243.67,153.68 L244.10,155.20 L244.51,156.73 L244.90,158.28 L245.27,159.83 L245.63,161.37 L245.99,162.91 L246.35,164.44 L246.71,165.95 L247.09,167.45 L247.47,168.91 L247.88,170.35 L248.31,171.75 L248.77,173.12 L249.27,174.43 L249.80,175.70 L250.83,176.86 L251.87,178.01 L252.93,179.13 L254.00,180.24 L255.09,181.33 L256.19,182.40 L257.31,183.45 L258.44,184.48 L259.58,185.50 L260.73,186.50 L261.90,187.48 L263.08,188.44 L264.27,189.39 L265.48,190.32 L266.70,191.24 L267.92,192.14 L269.16,193.02 L270.41,193.88 L271.67,194.73 L272.94,195.57 L274.23,196.39 L275.52,197.19 L276.82,197.98 L278.13,198.75 L279.45,199.51 L280.78,200.25 L282.12,200.98 L283.46,201.70 L284.82,202.40 L286.18,203.09 L287.55,203.77 L288.93,204.43 L290.31,205.07 L291.71,205.71 L293.11,206.33 L294.51,206.94 L295.92,207.54 L297.34,208.13 L298.77,208.70 L300.19,209.26 L301.63,209.81 L303.07,210.35 L304.51,210.88 L305.96,211.39 L307.42,211.90 L308.87,212.39 L310.33,212.87 L311.80,213.35 L313.27,213.81 L314.74,214.26 L316.21,214.71 L317.69,215.14 L319.17,215.57 L320.65,215.98 L322.13,216.39 L323.61,216.79 L325.10,217.18 L326.59,217.56 L328.07,217.93 L329.56,218.29 L331.05,218.65 L332.54,219.00 L334.03,219.34 L335.51,219.67 L337.00,220.00" stroke="#edb120"/>
<path d="M40.60,235.20 L40.60,233.60 L42.12,233.51 L43.63,233.41 L45.15,233.33 L46.66,233.25 L48.17,233.17 L49.68,233.10 L51.18,233.03 L52.69,232.97 L54.19,232.91 L55.70,232.86 L57.20,232.81 L58.70,232.76 L60.20,232.72 L61.71,232.68 L63.21,232.65 L64.71,232.62 L66.21,232.59 L67.71,232.56 L69.21,232.54 L70.71,232.52 L72.22,232.51 L73.72,232.49 L75.22,232.48 L76.73,232.47 L78.24,232.47 L79.74,232.47 L81.25,232.46 L82.77,232.47 L84.28,232.47 L85.79,232.47 L87.31,232.48 L88.83,232.49 L90.35,232.50 L91.88,232.51 L93.40,232.52 L94.93,232.54 L96.47,232.55 L98.00,232.57 L99.54,232.58 L101.08,232.59 L102.62,232.60 L104.16,232.61 L105.70,232.61 L107.24,232.60 L108.78,232.59 L110.32,232.58 L111.86,232.55 L113.40,232.52 L114.93,232.47 L116.46,232.42 L117.99,232.35 L119.52,232.27 L121.04,232.18 L122.56,232.08 L124.07,231.96 L125.58,231.82 L127.08,231.67 L128.58,231.50 L130.07,231.31 L131.55,231.10 L133.03,230.87 L134.50,230.62 L135.96,230.35 L137.42,230.05 L138.86,229.73 L140.30,229.39 L141.72,229.02 L143.14,228.63 L144.54,228.20 L145.94,227.75 L147.32,227.27 L148.69,226.76 L150.05,226.22 L151.40,225.65 L152.74,225.06 L154.07,224.43 L155.38,223.78 L156.68,223.10 L157.98,222.40 L159.26,221.67 L160.54,220.92 L161.80,220.15 L163.05,219.35 L164.30,218.53 L165.53,217.69 L166.76,216.84 L167.98,215.96 L169.19,215.07 L170.39,214.15 L171.58,213.23 L172.76,212.28 L173.94,211.32 L175.10,210.35 L176.26,209.36 L177.42,208.36 L178.56,207.35 L179.70,206.33 L180.84,205.30 L181.96,204.25 L183.08,203.20 L184.20,202.15 L185.30,201.08 L186.41,200.01 L187.50,198.93 L188.59,197.85 L189.68,196.76 L190.76,195.67 L191.84,194.58 L192.91,193.49 L193.98,192.40 L195.05,191.30 L196.12,190.21 L197.18,189.13 L198.25,188.04 L199.32,186.96 L200.38,185.89 L201.46,184.82 L202.53,183.76 L203.62,182.71 L204.70,181.66 L205.80,180.63 L206.90,179.61 L208.01,178.60 L209.13,177.61 L210.26,176.63 L211.40,175.66 L212.55,174.72 L213.71,173.79 L214.89,172.87 L216.08,171.98 L217.29,171.11 L218.51,170.26 L219.76,169.43 L221.01,168.63 L222.29,167.85 L223.59,167.09 L224.91,166.36 L226.25,165.66 L227.61,164.99 L229.00,164.34 L230.41,163.73 L231.84,163.15 L233.30,162.60 L234.82,163.43 L236.20,164.36 L237.46,165.38 L238.60,166.48 L239.63,167.66 L240.57,168.90 L241.43,170.20 L242.21,171.55 L242.93,172.94 L243.61,174.37 L244.24,175.83 L244.85,177.30 L245.44,178.79 L246.02,180.28 L246.61,181.77 L247.22,183.25 L247.86,184.71 L248.53,186.14 L249.26,187.54 L250.04,188.89 L250.90,190.20 L252.22,190.99 L253.54,191.76 L254.86,192.54 L256.19,193.30 L257.53,194.06 L258.87,194.81 L260.22,195.55 L261.57,196.29 L262.93,197.02 L264.29,197.74 L265.65,198.45 L267.02,199.16 L268.40,199.86 L269.77,200.55 L271.16,201.23 L272.55,201.91 L273.94,202.57 L275.33,203.23 L276.74,203.88 L278.14,204.53 L279.55,205.16 L280.96,205.79 L282.38,206.41 L283.80,207.02 L285.22,207.62 L286.65,208.21 L288.08,208.80 L289.52,209.37 L290.96,209.94 L292.40,210.50 L293.84,211.05 L295.29,211.59 L296.75,212.12 L298.20,212.64 L299.66,213.16 L301.12,213.66 L302.59,214.16 L304.06,214.64 L305.53,215.12 L307.00,215.58 L308.48,216.04 L309.96,216.49 L311.44,216.92 L312.93,217.35 L314.41,217.77 L315.90,218.18 L317.40,218.58 L318.89,218.96 L320.39,219.34 L321.89,219.71 L323.39,220.06 L324.90,220.41 L326.40,220.75 L327.91,221.07 L329.42,221.39 L330.93,221.69 L332.45,221.98 L333.96,222.27 L335.48,222.54 L337.00,222.80" stroke="#d95319"/>
<path d="M40.60,235.20 L40.60,235.70 L42.11,235.63 L43.62,235.57 L45.13,235.51 L46.64,235.46 L48.16,235.41 L49.67,235.37 L51.19,235.34 L52.70,235.31 L54.22,235.28 L55.74,235.26 L57.25,235.25 L58.77,235.24 L60.29,235.23 L61.81,235.23 L63.33,235.23 L64.85,235.24 L66.37,235.24 L67.90,235.26 L69.42,235.27 L70.94,235.29 L72.46,235.31 L73.99,235.33 L75.51,235.35 L77.04,235.37 L78.56,235.40 L80.09,235.43 L81.61,235.45 L83.14,235.48 L84.66,235.51 L86.19,235.54 L87.71,235.57 L89.24,235.60 L90.77,235.62 L92.29,235.65 L93.82,235.68 L95.34,235.70 L96.87,235.73 L98.40,235.75 L99.92,235.77 L101.45,235.79 L102.97,235.80 L104.50,235.81 L106.03,235.82 L107.55,235.83 L109.08,235.83 L110.60,235.83 L112.13,235.83 L113.65,235.82 L115.17,235.81 L116.70,235.79 L118.22,235.77 L119.74,235.75 L121.26,235.72 L122.79,235.68 L124.31,235.64 L125.83,235.59 L127.35,235.53 L128.87,235.47 L130.39,235.40 L131.90,235.33 L133.42,235.25 L134.94,235.16 L136.45,235.06 L137.97,234.96 L139.48,234.85 L141.00,234.73 L142.51,234.60 L144.02,234.46 L145.53,234.31 L147.04,234.16 L148.55,233.99 L150.06,233.81 L151.56,233.62 L153.06,233.41 L154.55,233.19 L156.04,232.95 L157.53,232.69 L159.01,232.41 L160.49,232.12 L161.96,231.80 L163.42,231.46 L164.87,231.10 L166.32,230.71 L167.76,230.30 L169.19,229.87 L170.61,229.40 L172.03,228.91 L173.43,228.39 L174.82,227.84 L176.21,227.27 L177.59,226.67 L178.95,226.06 L180.32,225.42 L181.67,224.76 L183.02,224.08 L184.36,223.38 L185.69,222.67 L187.02,221.94 L188.34,221.19 L189.66,220.43 L190.98,219.66 L192.28,218.88 L193.59,218.09 L194.89,217.29 L196.19,216.48 L197.48,215.67 L198.78,214.86 L200.07,214.04 L201.36,213.22 L202.66,212.40 L203.95,211.59 L205.25,210.78 L206.55,209.97 L207.85,209.17 L209.15,208.38 L210.46,207.61 L211.78,206.84 L213.10,206.08 L214.42,205.35 L215.76,204.62 L217.10,203.92 L218.45,203.23 L219.81,202.57 L221.18,201.93 L222.55,201.30 L223.94,200.71 L225.34,200.14 L226.75,199.59 L228.17,199.07 L229.61,198.58 L231.05,198.12 L232.52,197.69 L233.99,197.29 L235.48,196.93 L236.98,196.60 L238.50,196.30 L240.08,197.05 L241.47,198.01 L242.69,199.14 L243.81,200.40 L244.85,201.74 L245.86,203.12 L246.88,204.51 L247.95,205.85 L249.12,207.11 L250.42,208.24 L251.90,209.20 L253.33,209.76 L254.77,210.32 L256.21,210.86 L257.65,211.39 L259.09,211.91 L260.54,212.42 L261.99,212.92 L263.45,213.41 L264.90,213.89 L266.36,214.36 L267.82,214.82 L269.29,215.27 L270.75,215.71 L272.22,216.14 L273.69,216.56 L275.17,216.97 L276.64,217.37 L278.12,217.77 L279.60,218.15 L281.08,218.53 L282.57,218.89 L284.05,219.25 L285.54,219.60 L287.03,219.95 L288.52,220.28 L290.02,220.61 L291.52,220.93 L293.01,221.24 L294.51,221.54 L296.01,221.84 L297.52,222.13 L299.02,222.41 L300.53,222.68 L302.04,222.95 L303.54,223.21 L305.05,223.47 L306.57,223.71 L308.08,223.95 L309.59,224.19 L311.11,224.42 L312.62,224.64 L314.14,224.86 L315.66,225.07 L317.18,225.28 L318.70,225.48 L320.22,225.67 L321.74,225.86 L323.27,226.05 L324.79,226.23 L326.32,226.40 L327.84,226.57 L329.37,226.74 L330.89,226.90 L332.42,227.05 L333.95,227.21 L335.47,227.35 L337.00,227.50" stroke="#0072bd"/>
</g>
<rect x="266.7" y="9.5" width="64.3" height="131.5" fill="#fff" stroke="#bdbdbd" stroke-width="1"/>
<path d="M272.0,19.2H299.3" stroke="#f474b5" stroke-width="2.6"/>
<text x="303.0" y="23.7" font-size="12" xml:space="preserve">35 V</text>
<path d="M272.0,35.2H299.3" stroke="#a2142f" stroke-width="2.6"/>
<text x="303.0" y="39.7" font-size="12" xml:space="preserve">30 V</text>
<path d="M272.0,51.2H299.3" stroke="#4dbeee" stroke-width="2.6"/>
<text x="303.0" y="55.7" font-size="12" xml:space="preserve">25 V</text>
<path d="M272.0,67.2H299.3" stroke="#77ac30" stroke-width="2.6"/>
<text x="303.0" y="71.7" font-size="12" xml:space="preserve">20 V</text>
<path d="M272.0,83.2H299.3" stroke="#7e2f8e" stroke-width="2.6"/>
<text x="303.0" y="87.7" font-size="12" xml:space="preserve">15 V</text>
<path d="M272.0,99.2H299.3" stroke="#edb120" stroke-width="2.6"/>
<text x="303.0" y="103.7" font-size="12" xml:space="preserve">10 V</text>
<path d="M272.0,115.2H299.3" stroke="#d95319" stroke-width="2.6"/>
<text x="303.0" y="119.7" font-size="12" xml:space="preserve"> 5 V</text>
<path d="M272.0,131.2H299.3" stroke="#0072bd" stroke-width="2.6"/>
<text x="303.0" y="135.7" font-size="12" xml:space="preserve"> 0 V</text>
<text x="187.3" y="264.2" font-size="12.2" text-anchor="middle">Wavelength (nm)</text>
<text transform="translate(8.4,120.3) rotate(-90)" font-size="12" text-anchor="middle">EQE (%)</text>
<clipPath id="c1"><rect x="419.3" y="3.4000000000000004" width="296.29999999999995" height="233.60000000000002"/></clipPath>
<rect x="420.6" y="4.7" width="294.69999999999993" height="231.3" fill="none" stroke="#cbcbcb" stroke-width="1.5"/>
<path d="M420.6,236.0v-3M420.6,4.7v3M462.7,236.0v-3M462.7,4.7v3M504.8,236.0v-3M504.8,4.7v3M546.9,236.0v-3M546.9,4.7v3M589.0,236.0v-3M589.0,4.7v3M631.1,236.0v-3M631.1,4.7v3M673.2,236.0v-3M673.2,4.7v3M715.3,236.0v-3M715.3,4.7v3M420.6,236.0h3M715.3,236.0h-3M420.6,189.7h3M715.3,189.7h-3M420.6,143.5h3M715.3,143.5h-3M420.6,97.2h3M715.3,97.2h-3M420.6,51.0h3M715.3,51.0h-3M420.6,4.7h3M715.3,4.7h-3" stroke="#cbcbcb" stroke-width="1" fill="none"/>
<text x="420.6" y="249.6" font-size="12.5" text-anchor="middle">250</text>
<text x="462.7" y="249.6" font-size="12.5" text-anchor="middle">300</text>
<text x="504.8" y="249.6" font-size="12.5" text-anchor="middle">350</text>
<text x="546.9" y="249.6" font-size="12.5" text-anchor="middle">400</text>
<text x="589.0" y="249.6" font-size="12.5" text-anchor="middle">450</text>
<text x="631.1" y="249.6" font-size="12.5" text-anchor="middle">500</text>
<text x="673.2" y="249.6" font-size="12.5" text-anchor="middle">550</text>
<text x="715.3" y="249.6" font-size="12.5" text-anchor="middle">600</text>
<text x="418.3" y="240.4" font-size="12.5" text-anchor="end">0</text>
<text x="418.3" y="194.1" font-size="12.5" text-anchor="end">20</text>
<text x="418.3" y="147.9" font-size="12.5" text-anchor="end">40</text>
<text x="418.3" y="101.6" font-size="12.5" text-anchor="end">60</text>
<text x="418.3" y="55.4" font-size="12.5" text-anchor="end">80</text>
<text x="418.3" y="9.1" font-size="12.5" text-anchor="end">100</text>
<g clip-path="url(#c1)" fill="none" stroke-width="2.8" stroke-linejoin="round" stroke-linecap="round">
<path d="M420.70,234.60 L420.70,136.40 L421.05,134.95 L421.42,133.50 L421.80,132.06 L422.19,130.62 L422.60,129.18 L423.02,127.74 L423.45,126.30 L423.90,124.87 L424.35,123.44 L424.82,122.01 L425.30,120.58 L425.78,119.15 L426.27,117.72 L426.78,116.30 L427.28,114.88 L427.80,113.45 L428.32,112.03 L428.85,110.61 L429.38,109.20 L429.92,107.78 L430.46,106.36 L431.01,104.95 L431.55,103.53 L432.10,102.12 L432.65,100.71 L433.20,99.29 L433.76,97.88 L434.31,96.47 L434.86,95.06 L435.41,93.65 L435.96,92.24 L436.52,90.84 L437.07,89.43 L437.63,88.03 L438.19,86.63 L438.76,85.23 L439.33,83.84 L439.91,82.45 L440.49,81.06 L441.08,79.68 L441.68,78.31 L442.29,76.94 L442.90,75.57 L443.53,74.21 L444.17,72.86 L444.82,71.51 L445.48,70.17 L446.16,68.84 L446.85,67.52 L447.55,66.20 L448.27,64.89 L449.01,63.59 L449.76,62.30 L450.53,61.02 L451.32,59.75 L452.13,58.50 L452.95,57.25 L453.80,56.01 L454.67,54.78 L455.55,53.57 L456.45,52.36 L457.38,51.17 L458.32,49.99 L459.27,48.82 L460.25,47.67 L461.24,46.53 L462.25,45.40 L463.28,44.29 L464.32,43.18 L465.38,42.10 L466.45,41.02 L467.54,39.97 L468.65,38.92 L469.77,37.89 L470.90,36.88 L472.05,35.88 L473.21,34.90 L474.39,33.93 L475.58,32.98 L476.78,32.05 L478.00,31.13 L479.22,30.23 L480.46,29.35 L481.72,28.48 L482.98,27.63 L484.26,26.80 L485.54,25.99 L486.84,25.20 L488.15,24.42 L489.47,23.66 L490.80,22.93 L492.13,22.21 L493.48,21.51 L494.84,20.84 L496.20,20.18 L497.58,19.54 L498.96,18.93 L500.35,18.33 L501.75,17.76 L503.15,17.20 L504.57,16.67 L505.99,16.16 L507.41,15.68 L508.84,15.21 L510.28,14.77 L511.72,14.35 L513.17,13.96 L514.63,13.58 L516.08,13.23 L517.55,12.91 L519.01,12.61 L520.49,12.33 L521.96,12.08 L523.44,11.86 L524.92,11.66 L526.40,11.49 L527.88,11.35 L529.37,11.24 L530.85,11.16 L532.33,11.11 L533.81,11.10 L535.29,11.12 L536.77,11.18 L538.24,11.28 L539.71,11.41 L541.17,11.59 L542.63,11.80 L544.09,12.05 L545.54,12.34 L546.99,12.66 L548.43,13.01 L549.87,13.38 L551.31,13.78 L552.75,14.20 L554.18,14.64 L555.62,15.09 L557.06,15.56 L558.49,16.03 L559.93,16.52 L561.37,17.00 L562.81,17.49 L564.26,17.98 L565.70,18.47 L567.15,18.96 L568.60,19.45 L570.04,19.95 L571.49,20.44 L572.94,20.94 L574.39,21.45 L575.84,21.95 L577.29,22.46 L578.74,22.97 L580.19,23.48 L581.63,24.00 L583.08,24.52 L584.52,25.04 L585.96,25.58 L587.39,26.12 L588.80,26.68 L590.21,27.26 L591.60,27.86 L592.97,28.48 L594.33,29.12 L595.66,29.79 L596.97,30.49 L598.25,31.23 L599.50,32.00 L600.73,32.80 L601.92,33.65 L603.08,34.54 L604.20,35.47 L605.30,36.43 L606.36,37.43 L607.40,38.46 L608.40,39.53 L609.37,40.63 L610.32,41.75 L611.23,42.91 L612.12,44.10 L612.97,45.31 L613.80,46.55 L614.60,47.81 L615.38,49.10 L616.12,50.40 L616.84,51.73 L617.53,53.07 L618.20,54.43 L618.85,55.81 L619.46,57.21 L620.06,58.61 L620.62,60.03 L621.17,61.47 L621.69,62.91 L622.19,64.35 L622.66,65.81 L623.12,67.27 L623.55,68.74 L623.96,70.21 L624.35,71.68 L624.73,73.16 L625.09,74.64 L625.44,76.12 L625.78,77.61 L626.11,79.09 L626.44,80.58 L626.75,82.06 L627.07,83.55 L627.38,85.03 L627.70,86.51 L628.02,87.99 L628.34,89.47 L628.67,90.94 L629.00,92.41 L629.35,93.88 L629.71,95.34 L630.08,96.80 L630.46,98.25 L630.87,99.69 L631.29,101.13 L631.74,102.56 L632.21,103.98 L632.70,105.40 L633.41,106.77 L634.15,108.12 L634.92,109.46 L635.70,110.79 L636.50,112.10 L637.32,113.41 L638.16,114.70 L639.01,115.99 L639.88,117.27 L640.76,118.54 L641.65,119.81 L642.55,121.07 L643.46,122.33 L644.38,123.59 L645.31,124.84 L646.23,126.09 L647.17,127.34 L648.10,128.59 L649.03,129.84 L649.97,131.09 L650.90,132.35 L651.82,133.61 L652.75,134.87 L653.66,136.14 L654.57,137.42 L655.47,138.69 L656.37,139.98 L657.27,141.26 L658.17,142.54 L659.07,143.81 L659.97,145.08 L660.89,146.35 L661.81,147.60 L662.74,148.84 L663.68,150.07 L664.64,151.28 L665.61,152.48 L666.60,153.66 L667.62,154.81 L668.65,155.94 L669.71,157.05 L670.80,158.12 L671.92,159.17 L673.06,160.19 L674.24,161.17 L675.46,162.12 L676.71,163.03 L678.00,163.90 L678.00,202.40 L679.50,202.83 L681.00,203.28 L682.50,203.73 L683.99,204.19 L685.49,204.66 L686.98,205.14 L688.47,205.62 L689.96,206.10 L691.44,206.60 L692.93,207.09 L694.41,207.59 L695.90,208.09 L697.38,208.60 L698.86,209.10 L700.35,209.61 L701.83,210.12 L703.31,210.63 L704.80,211.13 L706.28,211.64 L707.76,212.14 L709.25,212.64 L710.74,213.14 L712.22,213.63 L713.71,214.12 L715.20,214.60" stroke="#f474b5"/>
<path d="M421.00,235.20 L421.00,137.00 L421.35,135.55 L421.72,134.11 L422.10,132.67 L422.50,131.23 L422.90,129.79 L423.32,128.35 L423.76,126.92 L424.20,125.48 L424.65,124.05 L425.12,122.62 L425.59,121.20 L426.07,119.77 L426.57,118.35 L427.07,116.92 L427.57,115.50 L428.08,114.08 L428.60,112.66 L429.13,111.25 L429.66,109.83 L430.19,108.42 L430.73,107.00 L431.27,105.59 L431.82,104.17 L432.37,102.76 L432.92,101.35 L433.47,99.94 L434.02,98.53 L434.57,97.12 L435.12,95.71 L435.67,94.30 L436.22,92.90 L436.77,91.49 L437.33,90.09 L437.89,88.69 L438.45,87.29 L439.02,85.89 L439.59,84.50 L440.17,83.12 L440.76,81.73 L441.35,80.35 L441.96,78.98 L442.57,77.62 L443.19,76.25 L443.83,74.90 L444.47,73.55 L445.13,72.21 L445.80,70.88 L446.48,69.55 L447.18,68.24 L447.89,66.93 L448.62,65.63 L449.37,64.34 L450.13,63.06 L450.92,61.79 L451.72,60.53 L452.54,59.29 L453.38,58.05 L454.24,56.83 L455.12,55.62 L456.02,54.42 L456.93,53.23 L457.87,52.05 L458.82,50.89 L459.80,49.74 L460.79,48.61 L461.80,47.49 L462.82,46.38 L463.86,45.28 L464.92,44.20 L465.99,43.14 L467.08,42.08 L468.19,41.05 L469.31,40.03 L470.44,39.02 L471.59,38.03 L472.76,37.05 L473.94,36.09 L475.13,35.15 L476.33,34.22 L477.55,33.31 L478.78,32.41 L480.02,31.54 L481.28,30.68 L482.55,29.83 L483.82,29.01 L485.11,28.20 L486.41,27.41 L487.72,26.64 L489.05,25.88 L490.38,25.15 L491.72,24.43 L493.07,23.74 L494.42,23.06 L495.79,22.40 L497.17,21.76 L498.55,21.15 L499.94,20.55 L501.34,19.97 L502.75,19.41 L504.16,18.88 L505.58,18.36 L507.01,17.87 L508.44,17.39 L509.87,16.94 L511.32,16.51 L512.76,16.11 L514.21,15.72 L515.67,15.36 L517.13,15.02 L518.59,14.70 L520.06,14.41 L521.53,14.14 L523.00,13.89 L524.48,13.67 L525.95,13.48 L527.43,13.32 L528.91,13.18 L530.39,13.08 L531.86,13.00 L533.34,12.97 L534.81,12.96 L536.28,13.00 L537.75,13.07 L539.22,13.18 L540.68,13.33 L542.14,13.52 L543.59,13.76 L545.04,14.03 L546.48,14.33 L547.93,14.67 L549.36,15.04 L550.80,15.43 L552.24,15.85 L553.67,16.28 L555.10,16.74 L556.54,17.20 L557.97,17.68 L559.41,18.17 L560.84,18.66 L562.28,19.15 L563.72,19.64 L565.16,20.14 L566.60,20.63 L568.04,21.13 L569.49,21.62 L570.93,22.12 L572.38,22.62 L573.82,23.12 L575.27,23.62 L576.72,24.12 L578.17,24.62 L579.62,25.13 L581.07,25.63 L582.52,26.14 L583.97,26.65 L585.41,27.16 L586.85,27.69 L588.28,28.22 L589.70,28.77 L591.11,29.34 L592.50,29.93 L593.88,30.54 L595.23,31.18 L596.56,31.85 L597.87,32.54 L599.15,33.28 L600.39,34.05 L601.61,34.86 L602.80,35.72 L603.95,36.61 L605.08,37.54 L606.17,38.51 L607.23,39.51 L608.26,40.55 L609.26,41.62 L610.23,42.72 L611.17,43.85 L612.09,45.01 L612.97,46.20 L613.82,47.41 L614.65,48.65 L615.45,49.91 L616.22,51.20 L616.96,52.50 L617.68,53.83 L618.37,55.18 L619.03,56.54 L619.67,57.92 L620.28,59.31 L620.86,60.72 L621.42,62.14 L621.96,63.57 L622.47,65.01 L622.95,66.45 L623.42,67.91 L623.86,69.37 L624.27,70.84 L624.67,72.31 L625.05,73.78 L625.42,75.26 L625.77,76.74 L626.10,78.22 L626.43,79.71 L626.76,81.19 L627.07,82.68 L627.38,84.17 L627.69,85.65 L628.00,87.13 L628.32,88.61 L628.64,90.09 L628.96,91.57 L629.29,93.04 L629.64,94.50 L629.99,95.96 L630.36,97.42 L630.75,98.87 L631.15,100.31 L631.58,101.75 L632.03,103.17 L632.50,104.59 L633.00,106.00 L633.71,107.37 L634.45,108.72 L635.22,110.06 L636.00,111.39 L636.80,112.70 L637.62,114.01 L638.46,115.30 L639.31,116.59 L640.18,117.87 L641.06,119.14 L641.95,120.41 L642.85,121.67 L643.76,122.93 L644.68,124.19 L645.61,125.44 L646.53,126.69 L647.47,127.94 L648.40,129.19 L649.33,130.44 L650.27,131.69 L651.20,132.95 L652.12,134.21 L653.05,135.47 L653.96,136.74 L654.87,138.02 L655.77,139.29 L656.67,140.58 L657.57,141.86 L658.47,143.14 L659.37,144.41 L660.27,145.68 L661.19,146.95 L662.11,148.20 L663.04,149.44 L663.98,150.67 L664.94,151.88 L665.91,153.08 L666.90,154.26 L667.92,155.41 L668.95,156.54 L670.01,157.65 L671.10,158.72 L672.22,159.77 L673.36,160.79 L674.54,161.77 L675.76,162.72 L677.01,163.63 L678.30,164.50 L678.30,203.00 L679.80,203.43 L681.30,203.88 L682.80,204.33 L684.29,204.79 L685.79,205.26 L687.28,205.74 L688.77,206.22 L690.26,206.70 L691.74,207.20 L693.23,207.69 L694.71,208.19 L696.20,208.69 L697.68,209.20 L699.16,209.70 L700.65,210.21 L702.13,210.72 L703.61,211.23 L705.10,211.73 L706.58,212.24 L708.06,212.74 L709.55,213.24 L711.04,213.74 L712.52,214.23 L714.01,214.72 L715.50,215.20" stroke="#a2142f"/>
<path d="M421.00,235.20 L421.00,144.50 L421.20,142.97 L421.43,141.46 L421.70,139.96 L421.99,138.47 L422.32,136.99 L422.68,135.52 L423.06,134.06 L423.47,132.61 L423.91,131.17 L424.36,129.73 L424.84,128.31 L425.33,126.89 L425.85,125.48 L426.38,124.07 L426.92,122.66 L427.48,121.27 L428.05,119.87 L428.62,118.48 L429.21,117.09 L429.80,115.70 L430.40,114.31 L431.00,112.92 L431.60,111.54 L432.20,110.15 L432.80,108.76 L433.40,107.37 L433.99,105.97 L434.58,104.57 L435.16,103.17 L435.73,101.77 L436.30,100.36 L436.86,98.95 L437.42,97.54 L437.97,96.13 L438.53,94.71 L439.08,93.30 L439.63,91.89 L440.19,90.48 L440.75,89.07 L441.31,87.66 L441.87,86.26 L442.45,84.86 L443.02,83.46 L443.61,82.07 L444.21,80.68 L444.81,79.31 L445.43,77.93 L446.06,76.57 L446.70,75.21 L447.36,73.86 L448.03,72.51 L448.71,71.18 L449.42,69.86 L450.14,68.55 L450.88,67.25 L451.65,65.96 L452.43,64.68 L453.24,63.42 L454.06,62.17 L454.91,60.93 L455.78,59.70 L456.66,58.49 L457.57,57.29 L458.50,56.11 L459.44,54.94 L460.40,53.78 L461.39,52.64 L462.39,51.51 L463.40,50.39 L464.44,49.29 L465.49,48.21 L466.56,47.14 L467.64,46.08 L468.74,45.05 L469.86,44.02 L470.99,43.02 L472.14,42.03 L473.30,41.05 L474.48,40.09 L475.67,39.15 L476.87,38.23 L478.09,37.32 L479.32,36.43 L480.57,35.55 L481.82,34.70 L483.09,33.86 L484.37,33.04 L485.67,32.24 L486.97,31.46 L488.28,30.69 L489.61,29.95 L490.94,29.22 L492.29,28.51 L493.64,27.82 L495.01,27.15 L496.38,26.50 L497.77,25.87 L499.16,25.26 L500.56,24.67 L501.96,24.10 L503.38,23.56 L504.80,23.03 L506.22,22.52 L507.66,22.04 L509.10,21.57 L510.55,21.13 L512.00,20.71 L513.46,20.31 L514.92,19.93 L516.38,19.58 L517.86,19.25 L519.33,18.94 L520.81,18.65 L522.29,18.39 L523.77,18.15 L525.26,17.94 L526.75,17.75 L528.23,17.59 L529.72,17.45 L531.21,17.34 L532.70,17.26 L534.19,17.21 L535.68,17.18 L537.16,17.18 L538.65,17.21 L540.13,17.27 L541.61,17.36 L543.09,17.48 L544.56,17.63 L546.03,17.81 L547.49,18.02 L548.95,18.26 L550.41,18.54 L551.85,18.85 L553.30,19.19 L554.73,19.57 L556.16,19.98 L557.58,20.42 L558.99,20.90 L560.40,21.41 L561.80,21.95 L563.20,22.51 L564.60,23.08 L565.99,23.67 L567.39,24.26 L568.79,24.86 L570.20,25.46 L571.61,26.06 L573.03,26.64 L574.46,27.21 L575.90,27.76 L577.35,28.29 L578.81,28.80 L580.29,29.28 L581.77,29.74 L583.26,30.20 L584.74,30.64 L586.22,31.09 L587.70,31.55 L589.16,32.02 L590.61,32.50 L592.04,33.01 L593.44,33.54 L594.83,34.11 L596.18,34.72 L597.50,35.37 L598.79,36.08 L600.04,36.83 L601.26,37.63 L602.44,38.48 L603.59,39.36 L604.71,40.30 L605.79,41.27 L606.84,42.28 L607.86,43.33 L608.85,44.41 L609.81,45.53 L610.73,46.68 L611.63,47.86 L612.50,49.08 L613.34,50.31 L614.15,51.58 L614.94,52.87 L615.69,54.18 L616.42,55.51 L617.13,56.86 L617.81,58.23 L618.46,59.61 L619.09,61.01 L619.70,62.42 L620.28,63.84 L620.84,65.27 L621.38,66.70 L621.90,68.15 L622.39,69.60 L622.87,71.05 L623.32,72.50 L623.76,73.96 L624.19,75.42 L624.59,76.89 L624.99,78.35 L625.38,79.82 L625.75,81.29 L626.12,82.76 L626.48,84.23 L626.83,85.70 L627.18,87.17 L627.53,88.65 L627.88,90.12 L628.22,91.59 L628.57,93.06 L628.92,94.53 L629.28,96.00 L629.64,97.46 L630.00,98.93 L630.38,100.39 L630.77,101.85 L631.17,103.30 L631.58,104.75 L632.00,106.20 L632.76,107.52 L633.55,108.84 L634.34,110.14 L635.15,111.44 L635.97,112.73 L636.81,114.02 L637.66,115.30 L638.51,116.57 L639.38,117.84 L640.26,119.10 L641.14,120.36 L642.03,121.62 L642.93,122.87 L643.83,124.12 L644.74,125.37 L645.65,126.62 L646.57,127.87 L647.48,129.11 L648.40,130.36 L649.32,131.61 L650.24,132.85 L651.16,134.10 L652.07,135.35 L652.99,136.61 L653.90,137.87 L654.80,139.13 L655.70,140.39 L656.60,141.65 L657.50,142.92 L658.40,144.18 L659.31,145.43 L660.22,146.68 L661.14,147.92 L662.06,149.16 L663.00,150.38 L663.95,151.58 L664.91,152.77 L665.90,153.95 L666.89,155.10 L667.91,156.24 L668.96,157.35 L670.02,158.43 L671.11,159.49 L672.23,160.53 L673.38,161.53 L674.56,162.50 L675.77,163.44 L677.02,164.34 L678.30,165.20 L678.30,203.50 L679.80,203.93 L681.30,204.37 L682.80,204.81 L684.29,205.27 L685.78,205.73 L687.27,206.19 L688.76,206.67 L690.25,207.15 L691.74,207.63 L693.23,208.12 L694.71,208.61 L696.20,209.10 L697.68,209.60 L699.16,210.10 L700.65,210.60 L702.13,211.10 L703.61,211.59 L705.10,212.09 L706.58,212.59 L708.06,213.08 L709.55,213.57 L711.04,214.06 L712.52,214.55 L714.01,215.03 L715.50,215.50" stroke="#4dbeee"/>
<path d="M421.00,235.20 L421.00,153.00 L421.10,151.47 L421.24,149.95 L421.41,148.45 L421.61,146.94 L421.84,145.45 L422.10,143.97 L422.39,142.49 L422.71,141.02 L423.05,139.56 L423.42,138.11 L423.81,136.66 L424.23,135.21 L424.66,133.78 L425.12,132.35 L425.59,130.93 L426.09,129.51 L426.60,128.09 L427.12,126.68 L427.66,125.28 L428.21,123.88 L428.77,122.48 L429.34,121.09 L429.93,119.70 L430.52,118.31 L431.11,116.93 L431.72,115.55 L432.33,114.17 L432.94,112.80 L433.55,111.42 L434.16,110.05 L434.78,108.67 L435.39,107.30 L436.00,105.93 L436.61,104.55 L437.22,103.17 L437.82,101.79 L438.42,100.41 L439.01,99.02 L439.59,97.63 L440.16,96.23 L440.73,94.83 L441.28,93.41 L441.82,92.00 L442.36,90.57 L442.89,89.15 L443.43,87.72 L443.97,86.30 L444.51,84.89 L445.07,83.48 L445.65,82.09 L446.24,80.71 L446.86,79.35 L447.51,78.00 L448.18,76.68 L448.90,75.39 L449.65,74.12 L450.44,72.88 L451.28,71.68 L452.16,70.50 L453.07,69.34 L454.02,68.22 L455.00,67.12 L456.01,66.04 L457.05,64.99 L458.12,63.96 L459.22,62.95 L460.33,61.97 L461.48,61.00 L462.64,60.05 L463.81,59.11 L465.01,58.20 L466.22,57.30 L467.44,56.41 L468.67,55.53 L469.91,54.66 L471.16,53.81 L472.41,52.96 L473.66,52.11 L474.92,51.28 L476.18,50.44 L477.44,49.62 L478.70,48.80 L479.97,47.99 L481.25,47.19 L482.53,46.41 L483.81,45.63 L485.10,44.87 L486.40,44.11 L487.71,43.37 L489.02,42.65 L490.34,41.93 L491.66,41.23 L492.99,40.54 L494.33,39.86 L495.67,39.20 L497.02,38.55 L498.38,37.91 L499.75,37.29 L501.12,36.68 L502.50,36.09 L503.89,35.51 L505.28,34.95 L506.68,34.40 L508.09,33.86 L509.51,33.35 L510.93,32.84 L512.36,32.36 L513.80,31.89 L515.25,31.43 L516.70,31.00 L518.16,30.58 L519.63,30.18 L521.11,29.80 L522.59,29.45 L524.07,29.12 L525.56,28.83 L527.04,28.57 L528.53,28.35 L530.02,28.17 L531.50,28.03 L532.98,27.94 L534.46,27.90 L535.93,27.91 L537.40,27.97 L538.86,28.09 L540.31,28.26 L541.75,28.48 L543.20,28.73 L544.63,29.03 L546.07,29.35 L547.51,29.70 L548.95,30.07 L550.39,30.45 L551.83,30.84 L553.27,31.23 L554.72,31.62 L556.18,32.00 L557.65,32.37 L559.12,32.72 L560.60,33.06 L562.09,33.38 L563.58,33.68 L565.08,33.98 L566.58,34.26 L568.09,34.54 L569.60,34.81 L571.11,35.08 L572.62,35.35 L574.12,35.62 L575.63,35.90 L577.13,36.18 L578.63,36.46 L580.13,36.76 L581.62,37.06 L583.10,37.38 L584.58,37.72 L586.05,38.07 L587.51,38.44 L588.96,38.83 L590.40,39.24 L591.82,39.69 L593.23,40.15 L594.63,40.65 L596.02,41.18 L597.39,41.74 L598.74,42.33 L600.06,42.97 L601.37,43.64 L602.64,44.35 L603.89,45.10 L605.10,45.89 L606.28,46.72 L607.42,47.60 L608.51,48.53 L609.57,49.51 L610.57,50.53 L611.53,51.60 L612.43,52.73 L613.27,53.91 L614.07,55.14 L614.81,56.42 L615.51,57.73 L616.17,59.09 L616.80,60.47 L617.38,61.88 L617.94,63.32 L618.48,64.77 L618.99,66.24 L619.48,67.72 L619.95,69.20 L620.42,70.69 L620.87,72.17 L621.32,73.65 L621.77,75.12 L622.21,76.58 L622.65,78.04 L623.09,79.50 L623.52,80.95 L623.94,82.39 L624.36,83.83 L624.78,85.27 L625.19,86.71 L625.60,88.15 L626.00,89.59 L626.39,91.03 L626.78,92.46 L627.17,93.90 L627.55,95.34 L627.92,96.79 L628.29,98.23 L628.65,99.69 L629.00,101.14 L629.35,102.60 L629.69,104.07 L630.03,105.54 L630.36,107.02 L630.68,108.51 L631.00,110.00 L631.81,111.31 L632.65,112.60 L633.49,113.89 L634.35,115.17 L635.22,116.44 L636.10,117.71 L637.00,118.97 L637.90,120.22 L638.81,121.48 L639.73,122.73 L640.65,123.97 L641.58,125.21 L642.51,126.46 L643.45,127.70 L644.39,128.94 L645.32,130.18 L646.26,131.43 L647.20,132.67 L648.13,133.92 L649.06,135.18 L649.98,136.43 L650.90,137.70 L651.81,138.96 L652.72,140.24 L653.61,141.52 L654.50,142.81 L655.37,144.10 L656.24,145.40 L657.11,146.71 L657.98,148.01 L658.85,149.30 L659.72,150.59 L660.61,151.87 L661.50,153.14 L662.41,154.40 L663.34,155.64 L664.28,156.86 L665.25,158.05 L666.25,159.23 L667.28,160.37 L668.33,161.48 L669.43,162.57 L670.56,163.61 L671.73,164.62 L672.94,165.59 L674.20,166.51 L675.52,167.39 L676.88,168.22 L678.30,169.00 L678.30,204.00 L679.80,204.43 L681.30,204.87 L682.80,205.31 L684.29,205.77 L685.78,206.23 L687.27,206.69 L688.76,207.17 L690.25,207.65 L691.74,208.13 L693.23,208.62 L694.71,209.11 L696.20,209.60 L697.68,210.10 L699.16,210.60 L700.65,211.10 L702.13,211.60 L703.61,212.09 L705.10,212.59 L706.58,213.09 L708.06,213.58 L709.55,214.07 L711.04,214.56 L712.52,215.05 L714.01,215.53 L715.50,216.00" stroke="#77ac30"/>
<path d="M421.00,235.20 L421.00,171.00 L421.07,169.48 L421.16,167.96 L421.28,166.45 L421.42,164.94 L421.59,163.43 L421.78,161.93 L422.00,160.44 L422.25,158.95 L422.51,157.47 L422.80,155.99 L423.11,154.51 L423.45,153.04 L423.80,151.58 L424.18,150.12 L424.57,148.67 L424.99,147.22 L425.43,145.78 L425.88,144.35 L426.36,142.92 L426.85,141.50 L427.36,140.08 L427.88,138.68 L428.43,137.27 L428.99,135.88 L429.56,134.49 L430.15,133.11 L430.76,131.73 L431.38,130.37 L432.01,129.01 L432.65,127.65 L433.31,126.31 L433.98,124.96 L434.65,123.62 L435.33,122.28 L436.02,120.94 L436.72,119.60 L437.41,118.26 L438.11,116.92 L438.81,115.58 L439.51,114.23 L440.21,112.87 L440.90,111.51 L441.60,110.14 L442.29,108.77 L442.98,107.40 L443.68,106.03 L444.39,104.66 L445.10,103.31 L445.83,101.96 L446.57,100.62 L447.33,99.30 L448.11,98.00 L448.91,96.73 L449.74,95.47 L450.60,94.24 L451.48,93.04 L452.38,91.87 L453.31,90.71 L454.27,89.59 L455.25,88.49 L456.25,87.41 L457.28,86.35 L458.33,85.32 L459.40,84.32 L460.49,83.33 L461.60,82.37 L462.74,81.42 L463.89,80.50 L465.06,79.60 L466.25,78.72 L467.45,77.86 L468.68,77.02 L469.92,76.20 L471.17,75.40 L472.44,74.61 L473.73,73.85 L475.03,73.10 L476.34,72.37 L477.67,71.65 L479.01,70.96 L480.36,70.27 L481.72,69.61 L483.09,68.96 L484.47,68.32 L485.87,67.70 L487.27,67.09 L488.68,66.49 L490.09,65.91 L491.52,65.34 L492.95,64.79 L494.39,64.24 L495.83,63.71 L497.27,63.19 L498.73,62.68 L500.18,62.17 L501.64,61.68 L503.10,61.20 L504.56,60.73 L506.03,60.27 L507.49,59.81 L508.96,59.36 L510.42,58.93 L511.88,58.49 L513.35,58.07 L514.81,57.65 L516.26,57.23 L517.72,56.83 L519.17,56.42 L520.61,56.03 L522.06,55.64 L523.50,55.27 L524.94,54.92 L526.38,54.60 L527.82,54.30 L529.26,54.03 L530.70,53.79 L532.15,53.60 L533.60,53.45 L535.05,53.35 L536.51,53.30 L537.97,53.30 L539.45,53.36 L540.93,53.49 L542.41,53.66 L543.90,53.88 L545.40,54.13 L546.89,54.42 L548.39,54.73 L549.89,55.06 L551.39,55.40 L552.89,55.75 L554.39,56.10 L555.89,56.44 L557.38,56.76 L558.86,57.06 L560.35,57.34 L561.82,57.59 L563.29,57.81 L564.77,58.00 L566.24,58.16 L567.71,58.29 L569.18,58.40 L570.66,58.49 L572.15,58.54 L573.65,58.57 L575.15,58.58 L576.67,58.56 L578.20,58.52 L579.74,58.45 L581.30,58.36 L582.87,58.26 L584.45,58.15 L586.03,58.04 L587.61,57.95 L589.17,57.88 L590.73,57.85 L592.26,57.85 L593.77,57.91 L595.25,58.03 L596.69,58.23 L598.09,58.51 L599.44,58.87 L600.75,59.33 L602.01,59.88 L603.22,60.51 L604.39,61.22 L605.52,62.01 L606.61,62.86 L607.66,63.79 L608.67,64.78 L609.64,65.82 L610.57,66.93 L611.47,68.08 L612.34,69.28 L613.17,70.53 L613.98,71.82 L614.75,73.14 L615.50,74.49 L616.21,75.87 L616.91,77.28 L617.57,78.70 L618.22,80.14 L618.84,81.60 L619.44,83.06 L620.02,84.52 L620.59,85.99 L621.13,87.45 L621.66,88.90 L622.18,90.35 L622.68,91.79 L623.17,93.22 L623.65,94.64 L624.12,96.06 L624.58,97.48 L625.03,98.89 L625.47,100.30 L625.91,101.71 L626.35,103.12 L626.78,104.52 L627.22,105.93 L627.65,107.33 L628.08,108.74 L628.51,110.15 L628.95,111.56 L629.39,112.98 L629.83,114.40 L630.29,115.82 L630.75,117.25 L631.21,118.68 L631.69,120.13 L632.18,121.58 L632.68,123.03 L633.20,124.50 L634.33,125.56 L635.44,126.64 L636.51,127.75 L637.56,128.88 L638.58,130.04 L639.58,131.21 L640.56,132.40 L641.53,133.60 L642.47,134.81 L643.41,136.04 L644.33,137.28 L645.25,138.52 L646.16,139.77 L647.06,141.03 L647.96,142.28 L648.87,143.54 L649.77,144.79 L650.68,146.04 L651.59,147.28 L652.51,148.52 L653.45,149.75 L654.39,150.97 L655.35,152.17 L656.33,153.36 L657.32,154.54 L658.33,155.71 L659.35,156.86 L660.39,157.99 L661.44,159.11 L662.52,160.21 L663.61,161.30 L664.72,162.37 L665.85,163.42 L667.00,164.45 L668.17,165.46 L669.36,166.45 L670.57,167.43 L671.80,168.38 L673.05,169.31 L674.33,170.21 L675.63,171.10 L676.95,171.96 L678.30,172.80 L678.30,204.50 L679.80,204.93 L681.30,205.37 L682.80,205.81 L684.29,206.27 L685.78,206.73 L687.27,207.19 L688.76,207.67 L690.25,208.15 L691.74,208.63 L693.23,209.12 L694.71,209.61 L696.20,210.10 L697.68,210.60 L699.16,211.10 L700.65,211.60 L702.13,212.10 L703.61,212.59 L705.10,213.09 L706.58,213.59 L708.06,214.08 L709.55,214.57 L711.04,215.06 L712.52,215.55 L714.01,216.03 L715.50,216.50" stroke="#7e2f8e"/>
<path d="M421.00,235.20 L421.00,181.00 L421.13,179.44 L421.31,177.91 L421.55,176.40 L421.84,174.91 L422.17,173.45 L422.56,172.00 L422.98,170.57 L423.45,169.16 L423.95,167.76 L424.49,166.38 L425.06,165.01 L425.66,163.65 L426.29,162.31 L426.95,160.97 L427.62,159.63 L428.32,158.31 L429.03,156.99 L429.76,155.67 L430.50,154.36 L431.25,153.04 L432.01,151.73 L432.76,150.41 L433.53,149.09 L434.28,147.77 L435.04,146.44 L435.80,145.11 L436.56,143.78 L437.32,142.46 L438.09,141.14 L438.87,139.82 L439.66,138.52 L440.46,137.23 L441.28,135.96 L442.12,134.71 L442.98,133.48 L443.87,132.27 L444.78,131.09 L445.72,129.94 L446.68,128.81 L447.66,127.70 L448.67,126.62 L449.70,125.56 L450.74,124.52 L451.81,123.49 L452.89,122.49 L454.00,121.50 L455.11,120.53 L456.25,119.57 L457.40,118.63 L458.56,117.70 L459.73,116.78 L460.92,115.88 L462.12,115.00 L463.34,114.13 L464.57,113.27 L465.81,112.43 L467.06,111.60 L468.32,110.79 L469.60,109.99 L470.89,109.21 L472.18,108.45 L473.49,107.69 L474.81,106.96 L476.14,106.24 L477.48,105.54 L478.82,104.85 L480.18,104.17 L481.55,103.52 L482.92,102.88 L484.30,102.25 L485.69,101.64 L487.09,101.05 L488.49,100.47 L489.91,99.92 L491.33,99.37 L492.75,98.85 L494.18,98.34 L495.62,97.84 L497.06,97.37 L498.51,96.91 L499.96,96.47 L501.42,96.05 L502.88,95.64 L504.35,95.25 L505.82,94.88 L507.29,94.52 L508.77,94.19 L510.25,93.87 L511.73,93.57 L513.21,93.29 L514.70,93.02 L516.19,92.78 L517.68,92.55 L519.17,92.34 L520.66,92.15 L522.15,91.98 L523.64,91.82 L525.13,91.69 L526.63,91.57 L528.12,91.47 L529.61,91.39 L531.11,91.32 L532.60,91.27 L534.09,91.24 L535.59,91.22 L537.08,91.22 L538.58,91.23 L540.07,91.26 L541.56,91.30 L543.06,91.36 L544.55,91.43 L546.04,91.52 L547.54,91.62 L549.03,91.73 L550.52,91.85 L552.01,91.99 L553.51,92.14 L555.00,92.30 L556.49,92.47 L557.98,92.65 L559.47,92.84 L560.96,93.03 L562.45,93.21 L563.93,93.37 L565.42,93.51 L566.90,93.62 L568.38,93.69 L569.85,93.71 L571.33,93.67 L572.80,93.58 L574.26,93.42 L575.73,93.18 L577.19,92.87 L578.64,92.50 L580.10,92.08 L581.55,91.62 L583.00,91.14 L584.45,90.64 L585.91,90.14 L587.36,89.65 L588.82,89.18 L590.28,88.74 L591.74,88.34 L593.21,88.00 L594.68,87.72 L596.15,87.50 L597.62,87.34 L599.07,87.27 L600.51,87.27 L601.94,87.35 L603.35,87.51 L604.73,87.77 L606.09,88.11 L607.41,88.56 L608.70,89.11 L609.96,89.76 L611.17,90.52 L612.34,91.37 L613.47,92.30 L614.55,93.32 L615.59,94.41 L616.58,95.56 L617.52,96.77 L618.41,98.03 L619.24,99.33 L620.02,100.66 L620.75,102.03 L621.41,103.41 L622.02,104.82 L622.59,106.23 L623.10,107.67 L623.58,109.12 L624.02,110.57 L624.43,112.04 L624.81,113.52 L625.17,115.00 L625.50,116.49 L625.83,117.98 L626.14,119.47 L626.45,120.95 L626.76,122.44 L627.08,123.92 L627.40,125.40 L627.73,126.87 L628.08,128.33 L628.45,129.78 L628.85,131.22 L629.28,132.64 L629.75,134.04 L630.25,135.43 L630.80,136.80 L631.81,137.93 L632.83,139.06 L633.87,140.19 L634.90,141.32 L635.95,142.44 L637.00,143.56 L638.06,144.67 L639.13,145.79 L640.20,146.90 L641.28,148.01 L642.36,149.13 L643.45,150.24 L644.54,151.35 L645.63,152.46 L646.72,153.57 L647.82,154.68 L648.92,155.79 L650.02,156.91 L651.12,158.02 L652.22,159.14 L653.32,160.25 L654.42,161.37 L655.52,162.49 L656.62,163.62 L657.72,164.74 L658.83,165.85 L659.94,166.96 L661.05,168.06 L662.18,169.15 L663.31,170.23 L664.46,171.30 L665.62,172.34 L666.79,173.37 L667.98,174.38 L669.19,175.36 L670.42,176.31 L671.67,177.24 L672.94,178.14 L674.24,179.01 L675.57,179.84 L676.92,180.64 L678.30,181.40 L678.30,208.40 L679.86,208.79 L681.43,209.20 L682.98,209.62 L684.54,210.05 L686.10,210.49 L687.65,210.94 L689.20,211.39 L690.75,211.86 L692.30,212.33 L693.85,212.80 L695.39,213.28 L696.94,213.76 L698.48,214.25 L700.03,214.73 L701.57,215.22 L703.12,215.71 L704.66,216.20 L706.21,216.68 L707.76,217.16 L709.30,217.64 L710.85,218.11 L712.40,218.58 L713.95,219.04 L715.50,219.50" stroke="#edb120"/>
<path d="M421.00,235.20 L421.00,196.50 L421.32,194.97 L421.70,193.48 L422.14,192.03 L422.64,190.61 L423.20,189.22 L423.81,187.87 L424.48,186.54 L425.19,185.25 L425.95,183.98 L426.75,182.73 L427.59,181.51 L428.47,180.32 L429.39,179.14 L430.34,177.99 L431.31,176.85 L432.32,175.73 L433.34,174.63 L434.39,173.54 L435.46,172.46 L436.55,171.39 L437.64,170.33 L438.75,169.28 L439.87,168.24 L440.99,167.21 L442.13,166.18 L443.27,165.16 L444.42,164.16 L445.58,163.16 L446.75,162.18 L447.92,161.21 L449.11,160.25 L450.31,159.31 L451.51,158.39 L452.73,157.48 L453.96,156.59 L455.20,155.72 L456.45,154.87 L457.71,154.04 L458.98,153.24 L460.26,152.45 L461.56,151.69 L462.86,150.96 L464.18,150.25 L465.51,149.56 L466.85,148.91 L468.21,148.28 L469.57,147.67 L470.95,147.10 L472.34,146.54 L473.74,146.01 L475.15,145.51 L476.57,145.03 L478.00,144.57 L479.43,144.13 L480.88,143.71 L482.33,143.31 L483.79,142.93 L485.26,142.57 L486.73,142.23 L488.22,141.90 L489.70,141.59 L491.20,141.30 L492.69,141.02 L494.20,140.75 L495.70,140.50 L497.21,140.27 L498.73,140.04 L500.25,139.83 L501.77,139.62 L503.29,139.43 L504.81,139.25 L506.34,139.07 L507.87,138.91 L509.39,138.75 L510.92,138.60 L512.45,138.45 L513.98,138.31 L515.50,138.17 L517.03,138.04 L518.55,137.91 L520.07,137.79 L521.59,137.66 L523.11,137.54 L524.62,137.42 L526.13,137.29 L527.63,137.17 L529.13,137.04 L530.63,136.92 L532.12,136.80 L533.61,136.68 L535.11,136.57 L536.60,136.47 L538.09,136.38 L539.59,136.31 L541.09,136.25 L542.59,136.21 L544.10,136.19 L545.61,136.20 L547.13,136.22 L548.66,136.27 L550.19,136.33 L551.72,136.40 L553.25,136.47 L554.79,136.53 L556.32,136.59 L557.84,136.63 L559.36,136.65 L560.87,136.65 L562.37,136.61 L563.86,136.54 L565.35,136.43 L566.82,136.27 L568.28,136.08 L569.73,135.84 L571.17,135.56 L572.60,135.22 L574.02,134.83 L575.42,134.39 L576.82,133.89 L578.20,133.34 L579.58,132.74 L580.95,132.11 L582.32,131.44 L583.70,130.75 L585.08,130.04 L586.46,129.32 L587.85,128.59 L589.26,127.87 L590.68,127.15 L592.11,126.45 L593.55,125.78 L595.00,125.14 L596.45,124.54 L597.91,124.00 L599.36,123.51 L600.81,123.09 L602.26,122.74 L603.70,122.49 L605.13,122.32 L606.54,122.26 L607.94,122.30 L609.32,122.46 L610.67,122.72 L612.00,123.08 L613.29,123.55 L614.54,124.13 L615.74,124.80 L616.90,125.57 L618.00,126.44 L619.04,127.40 L620.02,128.46 L620.94,129.60 L621.80,130.82 L622.60,132.11 L623.36,133.47 L624.06,134.87 L624.72,136.32 L625.34,137.80 L625.92,139.32 L626.46,140.85 L626.97,142.40 L627.45,143.95 L627.90,145.49 L628.33,147.02 L628.74,148.54 L629.13,150.02 L629.51,151.47 L629.88,152.87 L630.24,154.21 L630.60,155.50 L631.74,156.53 L632.87,157.57 L634.01,158.62 L635.15,159.66 L636.28,160.71 L637.42,161.76 L638.56,162.82 L639.71,163.87 L640.85,164.92 L642.00,165.98 L643.15,167.03 L644.31,168.07 L645.47,169.11 L646.63,170.15 L647.80,171.19 L648.97,172.21 L650.15,173.23 L651.34,174.24 L652.53,175.25 L653.73,176.24 L654.94,177.22 L656.15,178.20 L657.37,179.16 L658.60,180.10 L659.84,181.04 L661.08,181.96 L662.34,182.86 L663.61,183.75 L664.88,184.62 L666.17,185.47 L667.47,186.30 L668.78,187.12 L670.10,187.91 L671.44,188.68 L672.78,189.43 L674.14,190.16 L675.51,190.87 L676.90,191.55 L678.30,192.20 L678.30,211.00 L679.86,211.37 L681.42,211.76 L682.98,212.15 L684.54,212.55 L686.09,212.97 L687.64,213.39 L689.19,213.81 L690.74,214.25 L692.29,214.69 L693.84,215.13 L695.39,215.58 L696.93,216.03 L698.48,216.48 L700.03,216.94 L701.57,217.40 L703.12,217.85 L704.66,218.31 L706.21,218.76 L707.75,219.21 L709.30,219.66 L710.85,220.10 L712.40,220.54 L713.95,220.97 L715.50,221.40" stroke="#d95319"/>
<path d="M421.00,235.20 L421.00,214.70 L422.14,213.74 L423.31,212.83 L424.51,211.94 L425.72,211.08 L426.95,210.24 L428.20,209.42 L429.46,208.61 L430.74,207.80 L432.01,207.00 L433.30,206.19 L434.58,205.37 L435.87,204.55 L437.17,203.73 L438.46,202.91 L439.77,202.11 L441.08,201.32 L442.40,200.54 L443.72,199.79 L445.06,199.07 L446.41,198.38 L447.77,197.73 L449.14,197.11 L450.52,196.53 L451.91,195.98 L453.31,195.46 L454.73,194.97 L456.15,194.51 L457.57,194.08 L459.01,193.67 L460.45,193.28 L461.90,192.92 L463.36,192.58 L464.82,192.25 L466.29,191.94 L467.76,191.65 L469.24,191.37 L470.72,191.11 L472.20,190.85 L473.69,190.61 L475.17,190.37 L476.66,190.14 L478.15,189.92 L479.64,189.70 L481.14,189.49 L482.63,189.28 L484.13,189.08 L485.62,188.89 L487.12,188.70 L488.62,188.52 L490.12,188.35 L491.62,188.18 L493.12,188.01 L494.63,187.86 L496.13,187.71 L497.64,187.56 L499.14,187.43 L500.65,187.29 L502.16,187.17 L503.66,187.05 L505.17,186.93 L506.68,186.83 L508.19,186.72 L509.70,186.63 L511.21,186.54 L512.72,186.45 L514.24,186.37 L515.75,186.30 L517.26,186.23 L518.77,186.17 L520.28,186.12 L521.80,186.07 L523.31,186.03 L524.82,185.99 L526.33,185.96 L527.84,185.93 L529.36,185.91 L530.87,185.89 L532.38,185.88 L533.89,185.88 L535.40,185.88 L536.92,185.89 L538.43,185.89 L539.94,185.90 L541.45,185.91 L542.96,185.91 L544.47,185.92 L545.97,185.92 L547.48,185.91 L548.99,185.91 L550.50,185.89 L552.01,185.87 L553.51,185.83 L555.02,185.79 L556.53,185.74 L558.03,185.67 L559.54,185.59 L561.04,185.50 L562.55,185.39 L564.05,185.26 L565.55,185.11 L567.05,184.94 L568.54,184.74 L570.02,184.51 L571.49,184.24 L572.94,183.93 L574.39,183.58 L575.81,183.17 L577.22,182.72 L578.60,182.22 L579.97,181.66 L581.32,181.06 L582.66,180.42 L583.99,179.73 L585.31,179.02 L586.62,178.28 L587.93,177.52 L589.24,176.74 L590.54,175.94 L591.85,175.14 L593.17,174.33 L594.50,173.52 L595.83,172.71 L597.18,171.92 L598.53,171.14 L599.91,170.38 L601.30,169.64 L602.72,168.93 L604.14,168.26 L605.58,167.64 L607.02,167.09 L608.45,166.62 L609.87,166.24 L611.28,165.97 L612.66,165.81 L614.01,165.79 L615.33,165.90 L616.61,166.17 L617.85,166.59 L619.04,167.14 L620.19,167.82 L621.31,168.62 L622.38,169.53 L623.40,170.53 L624.39,171.63 L625.33,172.81 L626.23,174.06 L627.09,175.36 L627.91,176.72 L628.71,178.09 L629.47,179.48 L630.22,180.87 L630.95,182.22 L631.68,183.54 L632.40,184.80 L633.75,185.57 L635.10,186.35 L636.45,187.12 L637.81,187.89 L639.17,188.65 L640.53,189.41 L641.90,190.17 L643.26,190.92 L644.63,191.66 L646.01,192.40 L647.39,193.13 L648.77,193.85 L650.15,194.57 L651.54,195.27 L652.94,195.97 L654.34,196.66 L655.74,197.33 L657.15,198.00 L658.57,198.65 L659.99,199.29 L661.41,199.92 L662.84,200.54 L664.28,201.14 L665.72,201.72 L667.17,202.29 L668.62,202.84 L670.09,203.38 L671.55,203.90 L673.03,204.40 L674.51,204.89 L676.00,205.35 L677.50,205.80 L678.30,206.50 L678.30,214.80 L679.80,215.34 L681.31,215.85 L682.82,216.34 L684.34,216.80 L685.87,217.23 L687.41,217.65 L688.95,218.04 L690.49,218.42 L692.04,218.78 L693.60,219.12 L695.15,219.45 L696.71,219.77 L698.28,220.08 L699.84,220.38 L701.41,220.68 L702.98,220.97 L704.54,221.25 L706.11,221.54 L707.68,221.82 L709.25,222.11 L710.82,222.40 L712.38,222.69 L713.94,222.99 L715.50,223.30" stroke="#0072bd"/>
</g>
<rect x="649.5" y="7.3" width="63.7" height="131.5" fill="#fff" stroke="#bdbdbd" stroke-width="1"/>
<path d="M655.0,17.5H681.8" stroke="#f474b5" stroke-width="2.6"/>
<text x="685.8" y="22.0" font-size="12" xml:space="preserve">35 V</text>
<path d="M655.0,33.5H681.8" stroke="#a2142f" stroke-width="2.6"/>
<text x="685.8" y="38.0" font-size="12" xml:space="preserve">30 V</text>
<path d="M655.0,49.5H681.8" stroke="#4dbeee" stroke-width="2.6"/>
<text x="685.8" y="54.0" font-size="12" xml:space="preserve">25 V</text>
<path d="M655.0,65.5H681.8" stroke="#77ac30" stroke-width="2.6"/>
<text x="685.8" y="70.0" font-size="12" xml:space="preserve">20 V</text>
<path d="M655.0,81.5H681.8" stroke="#7e2f8e" stroke-width="2.6"/>
<text x="685.8" y="86.0" font-size="12" xml:space="preserve">15 V</text>
<path d="M655.0,97.5H681.8" stroke="#edb120" stroke-width="2.6"/>
<text x="685.8" y="102.0" font-size="12" xml:space="preserve">10 V</text>
<path d="M655.0,113.5H681.8" stroke="#d95319" stroke-width="2.6"/>
<text x="685.8" y="118.0" font-size="12" xml:space="preserve"> 5 V</text>
<path d="M655.0,129.5H681.8" stroke="#0072bd" stroke-width="2.6"/>
<text x="685.8" y="134.0" font-size="12" xml:space="preserve"> 0 V</text>
<text x="568.0" y="264.2" font-size="12.2" text-anchor="middle">Wavelength (nm)</text>
<text transform="translate(389.0,120.3) rotate(-90)" font-size="12" text-anchor="middle">EQE (%)</text>
<text class="cap" x="177.4" y="286.6" font-size="17.8" text-anchor="middle">(a)</text>
<text class="cap" x="563.4" y="286.6" font-size="17.8" text-anchor="middle">(b)</text>
</svg></body></html>
